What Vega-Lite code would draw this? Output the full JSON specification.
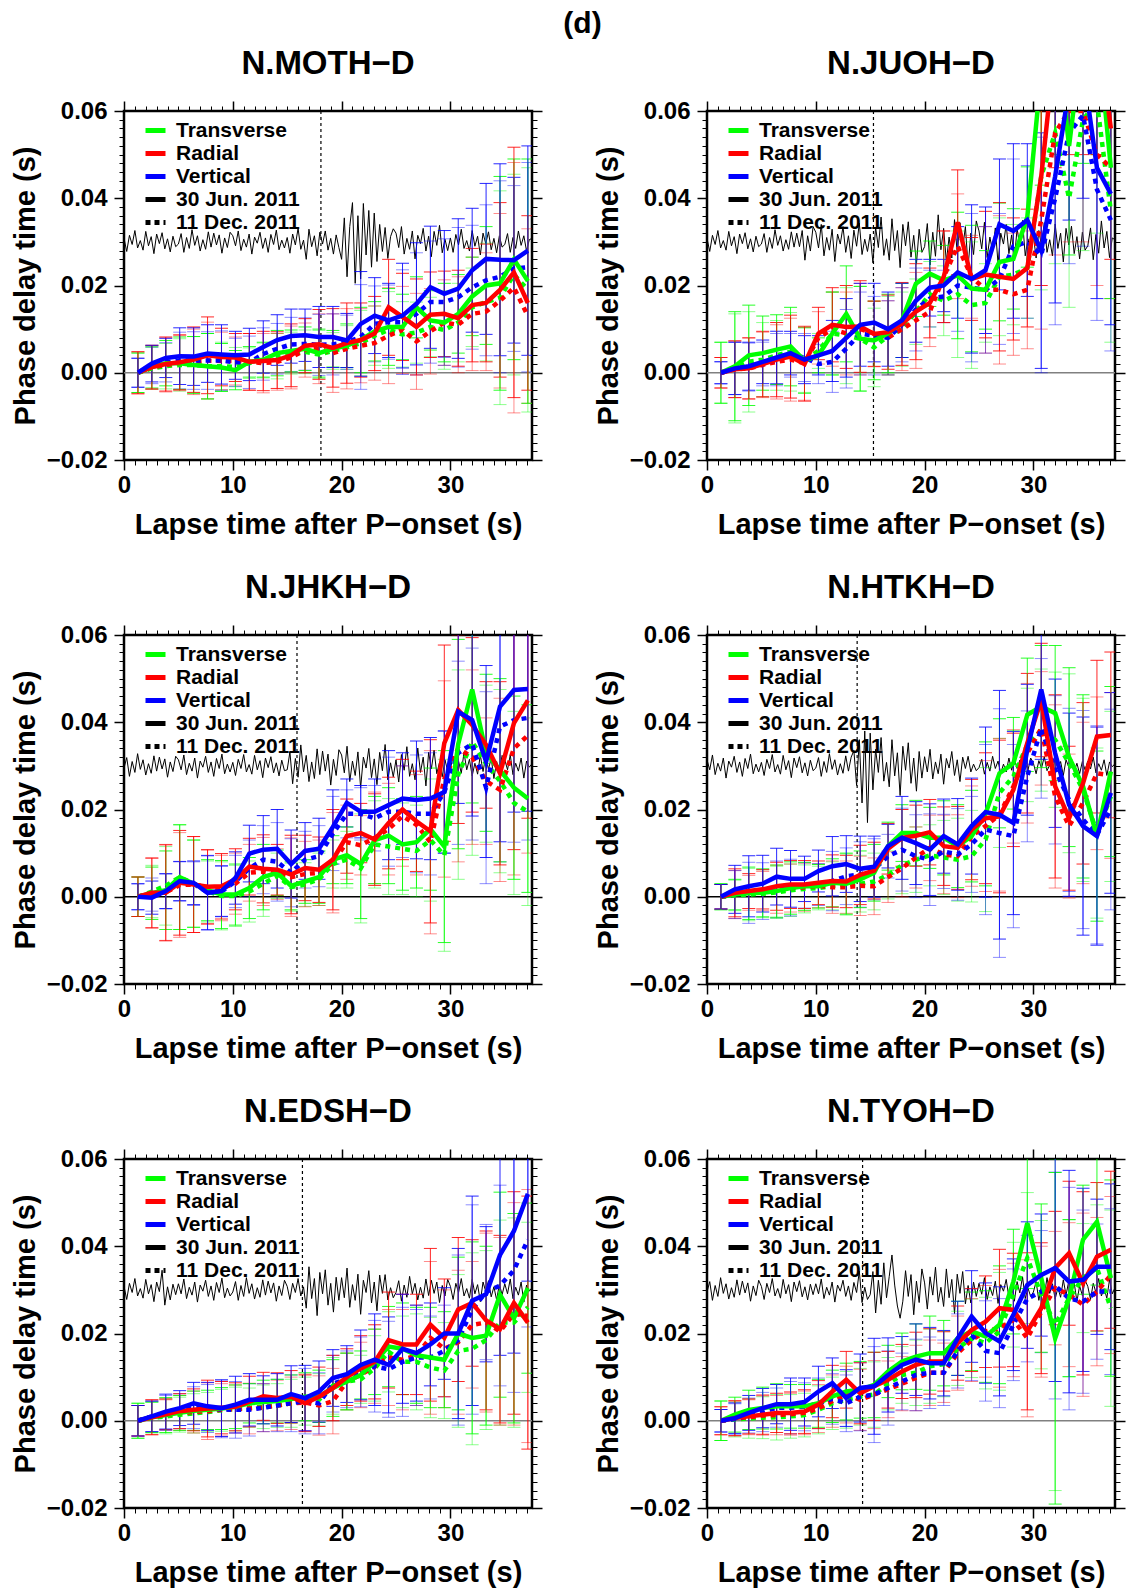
{
  "$schema": "https://vega.github.io/schema/vega-lite/v6.json",
  "background": "white",
  "padding": {"left": 10, "top": 8, "right": 2, "bottom": 2},
  "title": {"text": "(d)", "fontSize": 30, "anchor": "middle", "offset": 8, "dx": 14},
  "columns": 2,
  "spacing": 175,
  "bounds": "flush",
  "resolve": {
    "scale": {"x": "independent", "y": "independent", "color": "independent"},
    "legend": {"color": "independent"}
  },
  "datasets": {
    "moth": [
      {"c":"Transverse","t":1.28,"a":0,"b":0,"e":0.0045},
      {"c":"Transverse","t":2.56,"a":0.0013,"b":0.001,"e":0.0048},
      {"c":"Transverse","t":3.84,"a":0.0022,"b":0.0015,"e":0.0052},
      {"c":"Transverse","t":5.12,"a":0.0022,"b":0.0018,"e":0.006},
      {"c":"Transverse","t":6.4,"a":0.0018,"b":0.0018,"e":0.0065},
      {"c":"Transverse","t":7.68,"a":0.0015,"b":0.0015,"e":0.0075},
      {"c":"Transverse","t":8.96,"a":0.0012,"b":0.0015,"e":0.0055},
      {"c":"Transverse","t":10.24,"a":0.0006,"b":0.0013,"e":0.0045},
      {"c":"Transverse","t":11.52,"a":0.0025,"b":0.0022,"e":0.0035},
      {"c":"Transverse","t":12.8,"a":0.003,"b":0.0028,"e":0.004},
      {"c":"Transverse","t":14.08,"a":0.0045,"b":0.0038,"e":0.0052},
      {"c":"Transverse","t":15.36,"a":0.005,"b":0.0045,"e":0.0048},
      {"c":"Transverse","t":16.64,"a":0.0055,"b":0.0048,"e":0.005},
      {"c":"Transverse","t":17.92,"a":0.0045,"b":0.0042,"e":0.0055},
      {"c":"Transverse","t":19.2,"a":0.0055,"b":0.005,"e":0.0042},
      {"c":"Transverse","t":20.48,"a":0.0062,"b":0.0058,"e":0.005},
      {"c":"Transverse","t":21.76,"a":0.0075,"b":0.0068,"e":0.0075},
      {"c":"Transverse","t":23.04,"a":0.0095,"b":0.0085,"e":0.0068},
      {"c":"Transverse","t":24.32,"a":0.0105,"b":0.0098,"e":0.0088},
      {"c":"Transverse","t":25.6,"a":0.0105,"b":0.0088,"e":0.0075},
      {"c":"Transverse","t":26.88,"a":0.015,"b":0.0092,"e":0.007},
      {"c":"Transverse","t":28.16,"a":0.012,"b":0.0105,"e":0.0068},
      {"c":"Transverse","t":29.44,"a":0.0115,"b":0.0098,"e":0.009},
      {"c":"Transverse","t":30.72,"a":0.0135,"b":0.0115,"e":0.009},
      {"c":"Transverse","t":32,"a":0.0175,"b":0.015,"e":0.009},
      {"c":"Transverse","t":33.28,"a":0.02,"b":0.0162,"e":0.0135},
      {"c":"Transverse","t":34.56,"a":0.0205,"b":0.0172,"e":0.0245},
      {"c":"Transverse","t":35.84,"a":0.026,"b":0.0225,"e":0.023},
      {"c":"Transverse","t":37.12,"a":0.021,"b":0.019,"e":0.028},
      {"c":"Radial","t":1.28,"a":0,"b":0,"e":0.0048},
      {"c":"Radial","t":2.56,"a":0.0013,"b":0.0012,"e":0.005},
      {"c":"Radial","t":3.84,"a":0.002,"b":0.0018,"e":0.0062},
      {"c":"Radial","t":5.12,"a":0.0024,"b":0.0022,"e":0.0063},
      {"c":"Radial","t":6.4,"a":0.003,"b":0.0025,"e":0.0075},
      {"c":"Radial","t":7.68,"a":0.004,"b":0.0028,"e":0.0088},
      {"c":"Radial","t":8.96,"a":0.0036,"b":0.0027,"e":0.0066},
      {"c":"Radial","t":10.24,"a":0.0035,"b":0.0027,"e":0.0055},
      {"c":"Radial","t":11.52,"a":0.0025,"b":0.0025,"e":0.0065},
      {"c":"Radial","t":12.8,"a":0.0027,"b":0.0022,"e":0.0068},
      {"c":"Radial","t":14.08,"a":0.0029,"b":0.0025,"e":0.0065},
      {"c":"Radial","t":15.36,"a":0.004,"b":0.0035,"e":0.0072},
      {"c":"Radial","t":16.64,"a":0.0062,"b":0.0052,"e":0.0062},
      {"c":"Radial","t":17.92,"a":0.0065,"b":0.0055,"e":0.008},
      {"c":"Radial","t":19.2,"a":0.0057,"b":0.0045,"e":0.009},
      {"c":"Radial","t":20.48,"a":0.0068,"b":0.0055,"e":0.0092},
      {"c":"Radial","t":21.76,"a":0.0075,"b":0.0062,"e":0.0085},
      {"c":"Radial","t":23.04,"a":0.009,"b":0.0068,"e":0.0085},
      {"c":"Radial","t":24.32,"a":0.015,"b":0.0085,"e":0.011},
      {"c":"Radial","t":25.6,"a":0.0128,"b":0.0098,"e":0.01},
      {"c":"Radial","t":26.88,"a":0.0105,"b":0.0072,"e":0.011},
      {"c":"Radial","t":28.16,"a":0.0133,"b":0.0095,"e":0.0098},
      {"c":"Radial","t":29.44,"a":0.0135,"b":0.0115,"e":0.0098},
      {"c":"Radial","t":30.72,"a":0.0125,"b":0.011,"e":0.011},
      {"c":"Radial","t":32,"a":0.0155,"b":0.0135,"e":0.013},
      {"c":"Radial","t":33.28,"a":0.016,"b":0.014,"e":0.0135},
      {"c":"Radial","t":34.56,"a":0.019,"b":0.0165,"e":0.02},
      {"c":"Radial","t":35.84,"a":0.023,"b":0.0195,"e":0.0287},
      {"c":"Radial","t":37.12,"a":0.016,"b":0.013,"e":0.02},
      {"c":"Vertical","t":1.28,"a":0,"b":0,"e":0.0033},
      {"c":"Vertical","t":2.56,"a":0.0021,"b":0.0017,"e":0.0042},
      {"c":"Vertical","t":3.84,"a":0.0034,"b":0.0024,"e":0.0045},
      {"c":"Vertical","t":5.12,"a":0.0038,"b":0.0028,"e":0.0065},
      {"c":"Vertical","t":6.4,"a":0.0037,"b":0.0028,"e":0.0066},
      {"c":"Vertical","t":7.68,"a":0.0044,"b":0.0028,"e":0.0066},
      {"c":"Vertical","t":8.96,"a":0.0042,"b":0.0028,"e":0.0068},
      {"c":"Vertical","t":10.24,"a":0.004,"b":0.0024,"e":0.0055},
      {"c":"Vertical","t":11.52,"a":0.0042,"b":0.0024,"e":0.006},
      {"c":"Vertical","t":12.8,"a":0.0059,"b":0.0043,"e":0.006},
      {"c":"Vertical","t":14.08,"a":0.0075,"b":0.0055,"e":0.0058},
      {"c":"Vertical","t":15.36,"a":0.0084,"b":0.0065,"e":0.0062},
      {"c":"Vertical","t":16.64,"a":0.0086,"b":0.0066,"e":0.006},
      {"c":"Vertical","t":17.92,"a":0.0082,"b":0.0064,"e":0.007},
      {"c":"Vertical","t":19.2,"a":0.0082,"b":0.0065,"e":0.007},
      {"c":"Vertical","t":20.48,"a":0.0074,"b":0.007,"e":0.0062},
      {"c":"Vertical","t":21.76,"a":0.0112,"b":0.0082,"e":0.012},
      {"c":"Vertical","t":23.04,"a":0.0131,"b":0.0112,"e":0.0087},
      {"c":"Vertical","t":24.32,"a":0.012,"b":0.0116,"e":0.0085},
      {"c":"Vertical","t":25.6,"a":0.0131,"b":0.0116,"e":0.012},
      {"c":"Vertical","t":26.88,"a":0.0158,"b":0.0135,"e":0.014},
      {"c":"Vertical","t":28.16,"a":0.0196,"b":0.0162,"e":0.014},
      {"c":"Vertical","t":29.44,"a":0.0181,"b":0.0162,"e":0.0145},
      {"c":"Vertical","t":30.72,"a":0.0193,"b":0.0173,"e":0.016},
      {"c":"Vertical","t":32,"a":0.0235,"b":0.0196,"e":0.0142},
      {"c":"Vertical","t":33.28,"a":0.0261,"b":0.0212,"e":0.0173},
      {"c":"Vertical","t":34.56,"a":0.0259,"b":0.022,"e":0.022},
      {"c":"Vertical","t":35.84,"a":0.0258,"b":0.0239,"e":0.019},
      {"c":"Vertical","t":37.12,"a":0.028,"b":0.0242,"e":0.024}
    ],
    "juoh": [
      {"c":"Transverse","t":1.28,"a":0,"b":0,"e":0.007},
      {"c":"Transverse","t":2.56,"a":0.0015,"b":0.001,"e":0.0125},
      {"c":"Transverse","t":3.84,"a":0.004,"b":0.0025,"e":0.0115},
      {"c":"Transverse","t":5.12,"a":0.0045,"b":0.003,"e":0.0085},
      {"c":"Transverse","t":6.4,"a":0.0053,"b":0.004,"e":0.008},
      {"c":"Transverse","t":7.68,"a":0.006,"b":0.0048,"e":0.009},
      {"c":"Transverse","t":8.96,"a":0.0028,"b":0.003,"e":0.0075},
      {"c":"Transverse","t":10.24,"a":0.004,"b":0.005,"e":0.004},
      {"c":"Transverse","t":11.52,"a":0.009,"b":0.009,"e":0.0095},
      {"c":"Transverse","t":12.8,"a":0.0135,"b":0.0085,"e":0.011},
      {"c":"Transverse","t":14.08,"a":0.0078,"b":0.0078,"e":0.012},
      {"c":"Transverse","t":15.36,"a":0.0074,"b":0.0058,"e":0.009},
      {"c":"Transverse","t":16.64,"a":0.009,"b":0.0085,"e":0.009},
      {"c":"Transverse","t":17.92,"a":0.012,"b":0.01,"e":0.0085},
      {"c":"Transverse","t":19.2,"a":0.0204,"b":0.014,"e":0.0075},
      {"c":"Transverse","t":20.48,"a":0.0227,"b":0.018,"e":0.0075},
      {"c":"Transverse","t":21.76,"a":0.0212,"b":0.0165,"e":0.008},
      {"c":"Transverse","t":23.04,"a":0.0223,"b":0.018,"e":0.0145},
      {"c":"Transverse","t":24.32,"a":0.0193,"b":0.0155,"e":0.0145},
      {"c":"Transverse","t":25.6,"a":0.019,"b":0.016,"e":0.009},
      {"c":"Transverse","t":26.88,"a":0.0254,"b":0.022,"e":0.0135},
      {"c":"Transverse","t":28.16,"a":0.0261,"b":0.0225,"e":0.0115},
      {"c":"Transverse","t":29.44,"a":0.0357,"b":0.024,"e":0.0115},
      {"c":"Transverse","t":30.72,"a":0.069,"b":0.045,"e":0.026},
      {"c":"Transverse","t":32,"a":0.08,"b":0.055,"e":0.03},
      {"c":"Transverse","t":33.28,"a":0.052,"b":0.04,"e":0.025},
      {"c":"Transverse","t":34.56,"a":0.078,"b":0.058,"e":0.03},
      {"c":"Transverse","t":35.84,"a":0.08,"b":0.062,"e":0.03},
      {"c":"Transverse","t":37.12,"a":0.047,"b":0.037,"e":0.03},
      {"c":"Radial","t":1.28,"a":0,"b":0,"e":0.0035},
      {"c":"Radial","t":2.56,"a":0.0008,"b":0.0008,"e":0.0065},
      {"c":"Radial","t":3.84,"a":0.001,"b":0.001,"e":0.007},
      {"c":"Radial","t":5.12,"a":0.002,"b":0.0018,"e":0.0075},
      {"c":"Radial","t":6.4,"a":0.003,"b":0.0025,"e":0.0085},
      {"c":"Radial","t":7.68,"a":0.0037,"b":0.003,"e":0.0095},
      {"c":"Radial","t":8.96,"a":0.002,"b":0.0022,"e":0.0085},
      {"c":"Radial","t":10.24,"a":0.009,"b":0.008,"e":0.006},
      {"c":"Radial","t":11.52,"a":0.011,"b":0.01,"e":0.0085},
      {"c":"Radial","t":12.8,"a":0.0105,"b":0.009,"e":0.0095},
      {"c":"Radial","t":14.08,"a":0.0106,"b":0.01,"e":0.0105},
      {"c":"Radial","t":15.36,"a":0.0089,"b":0.009,"e":0.0075},
      {"c":"Radial","t":16.64,"a":0.0093,"b":0.008,"e":0.0085},
      {"c":"Radial","t":17.92,"a":0.0112,"b":0.01,"e":0.0095},
      {"c":"Radial","t":19.2,"a":0.014,"b":0.012,"e":0.011},
      {"c":"Radial","t":20.48,"a":0.016,"b":0.014,"e":0.008},
      {"c":"Radial","t":21.76,"a":0.022,"b":0.022,"e":0.0105},
      {"c":"Radial","t":23.04,"a":0.0345,"b":0.029,"e":0.012},
      {"c":"Radial","t":24.32,"a":0.0215,"b":0.022,"e":0.0095},
      {"c":"Radial","t":25.6,"a":0.0225,"b":0.019,"e":0.0145},
      {"c":"Radial","t":26.88,"a":0.022,"b":0.019,"e":0.017},
      {"c":"Radial","t":28.16,"a":0.0215,"b":0.018,"e":0.014},
      {"c":"Radial","t":29.44,"a":0.024,"b":0.019,"e":0.0135},
      {"c":"Radial","t":30.72,"a":0.045,"b":0.035,"e":0.025},
      {"c":"Radial","t":32,"a":0.075,"b":0.055,"e":0.028},
      {"c":"Radial","t":33.28,"a":0.08,"b":0.06,"e":0.03},
      {"c":"Radial","t":34.56,"a":0.08,"b":0.06,"e":0.03},
      {"c":"Radial","t":35.84,"a":0.08,"b":0.05,"e":0.03},
      {"c":"Radial","t":37.12,"a":0.056,"b":0.047,"e":0.03},
      {"c":"Vertical","t":1.28,"a":0,"b":0,"e":0.0025},
      {"c":"Vertical","t":2.56,"a":0.001,"b":0.001,"e":0.006},
      {"c":"Vertical","t":3.84,"a":0.0015,"b":0.0013,"e":0.0055},
      {"c":"Vertical","t":5.12,"a":0.0025,"b":0.002,"e":0.005},
      {"c":"Vertical","t":6.4,"a":0.0035,"b":0.003,"e":0.006},
      {"c":"Vertical","t":7.68,"a":0.0045,"b":0.004,"e":0.005},
      {"c":"Vertical","t":8.96,"a":0.003,"b":0.0035,"e":0.0055},
      {"c":"Vertical","t":10.24,"a":0.004,"b":0.002,"e":0.0045},
      {"c":"Vertical","t":11.52,"a":0.005,"b":0.0025,"e":0.007},
      {"c":"Vertical","t":12.8,"a":0.008,"b":0.0055,"e":0.009},
      {"c":"Vertical","t":14.08,"a":0.011,"b":0.009,"e":0.0095},
      {"c":"Vertical","t":15.36,"a":0.0115,"b":0.0085,"e":0.009},
      {"c":"Vertical","t":16.64,"a":0.01,"b":0.008,"e":0.0085},
      {"c":"Vertical","t":17.92,"a":0.012,"b":0.011,"e":0.0085},
      {"c":"Vertical","t":19.2,"a":0.0165,"b":0.0145,"e":0.0095},
      {"c":"Vertical","t":20.48,"a":0.0195,"b":0.017,"e":0.0065},
      {"c":"Vertical","t":21.76,"a":0.02,"b":0.0175,"e":0.006},
      {"c":"Vertical","t":23.04,"a":0.023,"b":0.02,"e":0.0105},
      {"c":"Vertical","t":24.32,"a":0.0215,"b":0.0195,"e":0.017},
      {"c":"Vertical","t":25.6,"a":0.0235,"b":0.019,"e":0.0145},
      {"c":"Vertical","t":26.88,"a":0.034,"b":0.0215,"e":0.015},
      {"c":"Vertical","t":28.16,"a":0.0325,"b":0.029,"e":0.02},
      {"c":"Vertical","t":29.44,"a":0.035,"b":0.03,"e":0.0175},
      {"c":"Vertical","t":30.72,"a":0.028,"b":0.027,"e":0.027},
      {"c":"Vertical","t":32,"a":0.045,"b":0.04,"e":0.029},
      {"c":"Vertical","t":33.28,"a":0.065,"b":0.055,"e":0.03},
      {"c":"Vertical","t":34.56,"a":0.07,"b":0.059,"e":0.03},
      {"c":"Vertical","t":35.84,"a":0.047,"b":0.042,"e":0.03},
      {"c":"Vertical","t":37.12,"a":0.041,"b":0.035,"e":0.03}
    ],
    "jhkh": [
      {"c":"Transverse","t":1.28,"a":0,"b":0,"e":0.0045},
      {"c":"Transverse","t":2.56,"a":0.0008,"b":0.0012,"e":0.006},
      {"c":"Transverse","t":3.84,"a":0.0015,"b":0.0025,"e":0.009},
      {"c":"Transverse","t":5.12,"a":0.0045,"b":0.0045,"e":0.012},
      {"c":"Transverse","t":6.4,"a":0.003,"b":0.003,"e":0.01},
      {"c":"Transverse","t":7.68,"a":0.0015,"b":0.0012,"e":0.007},
      {"c":"Transverse","t":8.96,"a":0.0005,"b":0.0002,"e":0.0078},
      {"c":"Transverse","t":10.24,"a":0.0005,"b":0.0002,"e":0.007},
      {"c":"Transverse","t":11.52,"a":0.002,"b":0.0012,"e":0.007},
      {"c":"Transverse","t":12.8,"a":0.0045,"b":0.003,"e":0.0075},
      {"c":"Transverse","t":14.08,"a":0.0055,"b":0.0048,"e":0.0052},
      {"c":"Transverse","t":15.36,"a":0.0025,"b":0.0022,"e":0.0055},
      {"c":"Transverse","t":16.64,"a":0.0035,"b":0.0028,"e":0.005},
      {"c":"Transverse","t":17.92,"a":0.0045,"b":0.004,"e":0.006},
      {"c":"Transverse","t":19.2,"a":0.0085,"b":0.0075,"e":0.0055},
      {"c":"Transverse","t":20.48,"a":0.0095,"b":0.0085,"e":0.0065},
      {"c":"Transverse","t":21.76,"a":0.0075,"b":0.0065,"e":0.0125},
      {"c":"Transverse","t":23.04,"a":0.013,"b":0.012,"e":0.01},
      {"c":"Transverse","t":24.32,"a":0.014,"b":0.0115,"e":0.011},
      {"c":"Transverse","t":25.6,"a":0.012,"b":0.011,"e":0.0105},
      {"c":"Transverse","t":26.88,"a":0.0125,"b":0.0105,"e":0.0105},
      {"c":"Transverse","t":28.16,"a":0.0155,"b":0.013,"e":0.014},
      {"c":"Transverse","t":29.44,"a":0.0115,"b":0.0095,"e":0.022},
      {"c":"Transverse","t":30.72,"a":0.035,"b":0.028,"e":0.024},
      {"c":"Transverse","t":32,"a":0.0475,"b":0.0355,"e":0.026},
      {"c":"Transverse","t":33.28,"a":0.033,"b":0.0305,"e":0.018},
      {"c":"Transverse","t":34.56,"a":0.029,"b":0.0265,"e":0.021},
      {"c":"Transverse","t":35.84,"a":0.025,"b":0.0215,"e":0.021},
      {"c":"Transverse","t":37.12,"a":0.0225,"b":0.0195,"e":0.0215},
      {"c":"Radial","t":1.28,"a":0,"b":0,"e":0.0045},
      {"c":"Radial","t":2.56,"a":0.0009,"b":0.0008,"e":0.008},
      {"c":"Radial","t":3.84,"a":0.0009,"b":0.001,"e":0.011},
      {"c":"Radial","t":5.12,"a":0.0032,"b":0.0027,"e":0.012},
      {"c":"Radial","t":6.4,"a":0.0028,"b":0.0028,"e":0.011},
      {"c":"Radial","t":7.68,"a":0.0023,"b":0.0022,"e":0.0085},
      {"c":"Radial","t":8.96,"a":0.0024,"b":0.002,"e":0.0075},
      {"c":"Radial","t":10.24,"a":0.004,"b":0.003,"e":0.007},
      {"c":"Radial","t":11.52,"a":0.0069,"b":0.0055,"e":0.0065},
      {"c":"Radial","t":12.8,"a":0.0064,"b":0.0058,"e":0.0078},
      {"c":"Radial","t":14.08,"a":0.0062,"b":0.0052,"e":0.0058},
      {"c":"Radial","t":15.36,"a":0.0051,"b":0.0045,"e":0.009},
      {"c":"Radial","t":16.64,"a":0.0066,"b":0.0052,"e":0.0075},
      {"c":"Radial","t":17.92,"a":0.0062,"b":0.0055,"e":0.0075},
      {"c":"Radial","t":19.2,"a":0.0085,"b":0.0078,"e":0.0115},
      {"c":"Radial","t":20.48,"a":0.0139,"b":0.0125,"e":0.0085},
      {"c":"Radial","t":21.76,"a":0.0146,"b":0.0118,"e":0.0068},
      {"c":"Radial","t":23.04,"a":0.0131,"b":0.0135,"e":0.0105},
      {"c":"Radial","t":24.32,"a":0.0169,"b":0.0155,"e":0.0105},
      {"c":"Radial","t":25.6,"a":0.02,"b":0.0185,"e":0.0115},
      {"c":"Radial","t":26.88,"a":0.0173,"b":0.0165,"e":0.0115},
      {"c":"Radial","t":28.16,"a":0.015,"b":0.0125,"e":0.021},
      {"c":"Radial","t":29.44,"a":0.0352,"b":0.027,"e":0.0225},
      {"c":"Radial","t":30.72,"a":0.0428,"b":0.034,"e":0.026},
      {"c":"Radial","t":32,"a":0.0394,"b":0.032,"e":0.02},
      {"c":"Radial","t":33.28,"a":0.0348,"b":0.0265,"e":0.0145},
      {"c":"Radial","t":34.56,"a":0.0283,"b":0.0245,"e":0.021},
      {"c":"Radial","t":35.84,"a":0.0398,"b":0.034,"e":0.029},
      {"c":"Radial","t":37.12,"a":0.045,"b":0.037,"e":0.027},
      {"c":"Vertical","t":1.28,"a":0,"b":0,"e":0.003},
      {"c":"Vertical","t":2.56,"a":-0.0002,"b":0.0005,"e":0.0038},
      {"c":"Vertical","t":3.84,"a":0.0013,"b":0.0012,"e":0.004},
      {"c":"Vertical","t":5.12,"a":0.0036,"b":0.0035,"e":0.0045},
      {"c":"Vertical","t":6.4,"a":0.0032,"b":0.003,"e":0.005},
      {"c":"Vertical","t":7.68,"a":0.0009,"b":0.001,"e":0.0085},
      {"c":"Vertical","t":8.96,"a":0.0013,"b":0.0012,"e":0.0058},
      {"c":"Vertical","t":10.24,"a":0.0043,"b":0.0035,"e":0.006},
      {"c":"Vertical","t":11.52,"a":0.0099,"b":0.0065,"e":0.0065},
      {"c":"Vertical","t":12.8,"a":0.0108,"b":0.0085,"e":0.0078},
      {"c":"Vertical","t":14.08,"a":0.011,"b":0.008,"e":0.009},
      {"c":"Vertical","t":15.36,"a":0.0075,"b":0.0055,"e":0.0078},
      {"c":"Vertical","t":16.64,"a":0.0105,"b":0.0085,"e":0.0065},
      {"c":"Vertical","t":17.92,"a":0.011,"b":0.0093,"e":0.007},
      {"c":"Vertical","t":19.2,"a":0.016,"b":0.0145,"e":0.0085},
      {"c":"Vertical","t":20.48,"a":0.0215,"b":0.019,"e":0.0055},
      {"c":"Vertical","t":21.76,"a":0.0195,"b":0.019,"e":0.006},
      {"c":"Vertical","t":23.04,"a":0.0195,"b":0.018,"e":0.0075},
      {"c":"Vertical","t":24.32,"a":0.021,"b":0.0195,"e":0.0125},
      {"c":"Vertical","t":25.6,"a":0.0225,"b":0.0195,"e":0.0105},
      {"c":"Vertical","t":26.88,"a":0.0222,"b":0.019,"e":0.0135},
      {"c":"Vertical","t":28.16,"a":0.0225,"b":0.019,"e":0.014},
      {"c":"Vertical","t":29.44,"a":0.024,"b":0.024,"e":0.014},
      {"c":"Vertical","t":30.72,"a":0.0424,"b":0.033,"e":0.021},
      {"c":"Vertical","t":32,"a":0.0405,"b":0.035,"e":0.022},
      {"c":"Vertical","t":33.28,"a":0.031,"b":0.025,"e":0.022},
      {"c":"Vertical","t":34.56,"a":0.0436,"b":0.039,"e":0.031},
      {"c":"Vertical","t":35.84,"a":0.0474,"b":0.0405,"e":0.028},
      {"c":"Vertical","t":37.12,"a":0.0476,"b":0.041,"e":0.028}
    ],
    "htkh": [
      {"c":"Transverse","t":1.28,"a":0,"b":0,"e":0.003},
      {"c":"Transverse","t":2.56,"a":0.0005,"b":0.0003,"e":0.0035},
      {"c":"Transverse","t":3.84,"a":0.0008,"b":0.0005,"e":0.006},
      {"c":"Transverse","t":5.12,"a":0.0009,"b":0.0007,"e":0.0055},
      {"c":"Transverse","t":6.4,"a":0.0013,"b":0.001,"e":0.006},
      {"c":"Transverse","t":7.68,"a":0.002,"b":0.0015,"e":0.006},
      {"c":"Transverse","t":8.96,"a":0.0024,"b":0.0018,"e":0.0055},
      {"c":"Transverse","t":10.24,"a":0.0024,"b":0.002,"e":0.005},
      {"c":"Transverse","t":11.52,"a":0.0032,"b":0.0025,"e":0.0055},
      {"c":"Transverse","t":12.8,"a":0.003,"b":0.0028,"e":0.007},
      {"c":"Transverse","t":14.08,"a":0.004,"b":0.003,"e":0.0065},
      {"c":"Transverse","t":15.36,"a":0.0055,"b":0.0035,"e":0.0065},
      {"c":"Transverse","t":16.64,"a":0.0116,"b":0.005,"e":0.0055},
      {"c":"Transverse","t":17.92,"a":0.0146,"b":0.0072,"e":0.0065},
      {"c":"Transverse","t":19.2,"a":0.0146,"b":0.0085,"e":0.0075},
      {"c":"Transverse","t":20.48,"a":0.0135,"b":0.0095,"e":0.007},
      {"c":"Transverse","t":21.76,"a":0.0135,"b":0.009,"e":0.0085},
      {"c":"Transverse","t":23.04,"a":0.0116,"b":0.0085,"e":0.0095},
      {"c":"Transverse","t":24.32,"a":0.0139,"b":0.0093,"e":0.0105},
      {"c":"Transverse","t":25.6,"a":0.019,"b":0.0131,"e":0.0165},
      {"c":"Transverse","t":26.88,"a":0.0283,"b":0.0238,"e":0.0125},
      {"c":"Transverse","t":28.16,"a":0.0306,"b":0.0276,"e":0.0105},
      {"c":"Transverse","t":29.44,"a":0.0417,"b":0.0348,"e":0.013},
      {"c":"Transverse","t":30.72,"a":0.0436,"b":0.0382,"e":0.014},
      {"c":"Transverse","t":32,"a":0.0421,"b":0.036,"e":0.0155},
      {"c":"Transverse","t":33.28,"a":0.032,"b":0.0306,"e":0.0205},
      {"c":"Transverse","t":34.56,"a":0.0253,"b":0.0245,"e":0.021},
      {"c":"Transverse","t":35.84,"a":0.0139,"b":0.0146,"e":0.0195},
      {"c":"Transverse","t":37.12,"a":0.0287,"b":0.023,"e":0.0195},
      {"c":"Radial","t":1.28,"a":0,"b":0,"e":0.0028},
      {"c":"Radial","t":2.56,"a":0.0009,"b":0.0005,"e":0.0055},
      {"c":"Radial","t":3.84,"a":0.0013,"b":0.0009,"e":0.004},
      {"c":"Radial","t":5.12,"a":0.0017,"b":0.0013,"e":0.0045},
      {"c":"Radial","t":6.4,"a":0.0024,"b":0.0017,"e":0.0055},
      {"c":"Radial","t":7.68,"a":0.0028,"b":0.002,"e":0.0055},
      {"c":"Radial","t":8.96,"a":0.0028,"b":0.0022,"e":0.0055},
      {"c":"Radial","t":10.24,"a":0.0032,"b":0.0025,"e":0.005},
      {"c":"Radial","t":11.52,"a":0.0036,"b":0.0022,"e":0.006},
      {"c":"Radial","t":12.8,"a":0.0035,"b":0.0022,"e":0.006},
      {"c":"Radial","t":14.08,"a":0.005,"b":0.0025,"e":0.0068},
      {"c":"Radial","t":15.36,"a":0.006,"b":0.0024,"e":0.0065},
      {"c":"Radial","t":16.64,"a":0.011,"b":0.0045,"e":0.0058},
      {"c":"Radial","t":17.92,"a":0.0135,"b":0.0065,"e":0.0065},
      {"c":"Radial","t":19.2,"a":0.014,"b":0.009,"e":0.007},
      {"c":"Radial","t":20.48,"a":0.0148,"b":0.0112,"e":0.0075},
      {"c":"Radial","t":21.76,"a":0.0116,"b":0.0097,"e":0.009},
      {"c":"Radial","t":23.04,"a":0.0112,"b":0.0093,"e":0.0095},
      {"c":"Radial","t":24.32,"a":0.0154,"b":0.0139,"e":0.0115},
      {"c":"Radial","t":25.6,"a":0.018,"b":0.0162,"e":0.015},
      {"c":"Radial","t":26.88,"a":0.0184,"b":0.0188,"e":0.0175},
      {"c":"Radial","t":28.16,"a":0.0245,"b":0.0253,"e":0.013},
      {"c":"Radial","t":29.44,"a":0.0352,"b":0.0329,"e":0.016},
      {"c":"Radial","t":30.72,"a":0.0451,"b":0.0386,"e":0.013},
      {"c":"Radial","t":32,"a":0.0253,"b":0.023,"e":0.021},
      {"c":"Radial","t":33.28,"a":0.018,"b":0.0162,"e":0.0165},
      {"c":"Radial","t":34.56,"a":0.026,"b":0.0215,"e":0.0185},
      {"c":"Radial","t":35.84,"a":0.0367,"b":0.0283,"e":0.0175},
      {"c":"Radial","t":37.12,"a":0.0371,"b":0.0278,"e":0.019},
      {"c":"Vertical","t":1.28,"a":0,"b":0,"e":0.0028},
      {"c":"Vertical","t":2.56,"a":0.0017,"b":0.0005,"e":0.0055},
      {"c":"Vertical","t":3.84,"a":0.0024,"b":0.0009,"e":0.007},
      {"c":"Vertical","t":5.12,"a":0.003,"b":0.0013,"e":0.0065},
      {"c":"Vertical","t":6.4,"a":0.0046,"b":0.0017,"e":0.0065},
      {"c":"Vertical","t":7.68,"a":0.0041,"b":0.0021,"e":0.0065},
      {"c":"Vertical","t":8.96,"a":0.0041,"b":0.0026,"e":0.0052},
      {"c":"Vertical","t":10.24,"a":0.0059,"b":0.0028,"e":0.0048},
      {"c":"Vertical","t":11.52,"a":0.007,"b":0.0036,"e":0.0068},
      {"c":"Vertical","t":12.8,"a":0.0075,"b":0.0047,"e":0.0065},
      {"c":"Vertical","t":14.08,"a":0.0064,"b":0.0051,"e":0.0075},
      {"c":"Vertical","t":15.36,"a":0.0069,"b":0.0063,"e":0.007},
      {"c":"Vertical","t":16.64,"a":0.0116,"b":0.0093,"e":0.005},
      {"c":"Vertical","t":17.92,"a":0.0135,"b":0.0108,"e":0.0095},
      {"c":"Vertical","t":19.2,"a":0.0123,"b":0.0093,"e":0.0095},
      {"c":"Vertical","t":20.48,"a":0.0108,"b":0.0085,"e":0.0105},
      {"c":"Vertical","t":21.76,"a":0.0139,"b":0.0104,"e":0.0085},
      {"c":"Vertical","t":23.04,"a":0.012,"b":0.0097,"e":0.0105},
      {"c":"Vertical","t":24.32,"a":0.0162,"b":0.012,"e":0.011},
      {"c":"Vertical","t":25.6,"a":0.0194,"b":0.0154,"e":0.0195},
      {"c":"Vertical","t":26.88,"a":0.0188,"b":0.0146,"e":0.0285},
      {"c":"Vertical","t":28.16,"a":0.0169,"b":0.0139,"e":0.021},
      {"c":"Vertical","t":29.44,"a":0.0337,"b":0.0276,"e":0.015},
      {"c":"Vertical","t":30.72,"a":0.0475,"b":0.0386,"e":0.016},
      {"c":"Vertical","t":32,"a":0.0329,"b":0.0291,"e":0.017},
      {"c":"Vertical","t":33.28,"a":0.0211,"b":0.0222,"e":0.021},
      {"c":"Vertical","t":34.56,"a":0.0162,"b":0.0177,"e":0.025},
      {"c":"Vertical","t":35.84,"a":0.0139,"b":0.0142,"e":0.025},
      {"c":"Vertical","t":37.12,"a":0.0238,"b":0.02,"e":0.023}
    ],
    "edsh": [
      {"c":"Transverse","t":1.28,"a":0,"b":0,"e":0.004},
      {"c":"Transverse","t":2.56,"a":0.0008,"b":0.0007,"e":0.0035},
      {"c":"Transverse","t":3.84,"a":0.0013,"b":0.001,"e":0.004},
      {"c":"Transverse","t":5.12,"a":0.0018,"b":0.0014,"e":0.004},
      {"c":"Transverse","t":6.4,"a":0.0023,"b":0.0017,"e":0.0045},
      {"c":"Transverse","t":7.68,"a":0.0025,"b":0.002,"e":0.0045},
      {"c":"Transverse","t":8.96,"a":0.0028,"b":0.0024,"e":0.0048},
      {"c":"Transverse","t":10.24,"a":0.0032,"b":0.0027,"e":0.005},
      {"c":"Transverse","t":11.52,"a":0.004,"b":0.003,"e":0.0045},
      {"c":"Transverse","t":12.8,"a":0.0043,"b":0.0032,"e":0.005},
      {"c":"Transverse","t":14.08,"a":0.0045,"b":0.0035,"e":0.005},
      {"c":"Transverse","t":15.36,"a":0.005,"b":0.004,"e":0.0055},
      {"c":"Transverse","t":16.64,"a":0.0055,"b":0.0045,"e":0.0055},
      {"c":"Transverse","t":17.92,"a":0.0056,"b":0.0048,"e":0.006},
      {"c":"Transverse","t":19.2,"a":0.0075,"b":0.008,"e":0.0065},
      {"c":"Transverse","t":20.48,"a":0.009,"b":0.009,"e":0.0065},
      {"c":"Transverse","t":21.76,"a":0.0105,"b":0.0095,"e":0.0055},
      {"c":"Transverse","t":23.04,"a":0.0135,"b":0.012,"e":0.0075},
      {"c":"Transverse","t":24.32,"a":0.017,"b":0.0158,"e":0.0092},
      {"c":"Transverse","t":25.6,"a":0.0165,"b":0.0135,"e":0.0105},
      {"c":"Transverse","t":26.88,"a":0.015,"b":0.0135,"e":0.011},
      {"c":"Transverse","t":28.16,"a":0.0145,"b":0.0122,"e":0.0115},
      {"c":"Transverse","t":29.44,"a":0.014,"b":0.0115,"e":0.011},
      {"c":"Transverse","t":30.72,"a":0.02,"b":0.016,"e":0.0175},
      {"c":"Transverse","t":32,"a":0.019,"b":0.0165,"e":0.022},
      {"c":"Transverse","t":33.28,"a":0.0195,"b":0.0185,"e":0.0205},
      {"c":"Transverse","t":34.56,"a":0.0289,"b":0.0225,"e":0.0235},
      {"c":"Transverse","t":35.84,"a":0.0235,"b":0.0225,"e":0.024},
      {"c":"Transverse","t":37.12,"a":0.0304,"b":0.026,"e":0.0195},
      {"c":"Radial","t":1.28,"a":0,"b":0,"e":0.0035},
      {"c":"Radial","t":2.56,"a":0.0008,"b":0.0008,"e":0.004},
      {"c":"Radial","t":3.84,"a":0.0015,"b":0.0013,"e":0.0035},
      {"c":"Radial","t":5.12,"a":0.0022,"b":0.0018,"e":0.004},
      {"c":"Radial","t":6.4,"a":0.0025,"b":0.002,"e":0.0048},
      {"c":"Radial","t":7.68,"a":0.0028,"b":0.0022,"e":0.0065},
      {"c":"Radial","t":8.96,"a":0.003,"b":0.0025,"e":0.006},
      {"c":"Radial","t":10.24,"a":0.0032,"b":0.0027,"e":0.0055},
      {"c":"Radial","t":11.52,"a":0.0044,"b":0.0028,"e":0.0058},
      {"c":"Radial","t":12.8,"a":0.0056,"b":0.003,"e":0.0055},
      {"c":"Radial","t":14.08,"a":0.0052,"b":0.0035,"e":0.0058},
      {"c":"Radial","t":15.36,"a":0.0055,"b":0.004,"e":0.006},
      {"c":"Radial","t":16.64,"a":0.004,"b":0.0042,"e":0.0065},
      {"c":"Radial","t":17.92,"a":0.0055,"b":0.0035,"e":0.0068},
      {"c":"Radial","t":19.2,"a":0.0075,"b":0.0045,"e":0.0075},
      {"c":"Radial","t":20.48,"a":0.01,"b":0.009,"e":0.0065},
      {"c":"Radial","t":21.76,"a":0.012,"b":0.0105,"e":0.0075},
      {"c":"Radial","t":23.04,"a":0.0135,"b":0.0125,"e":0.0085},
      {"c":"Radial","t":24.32,"a":0.0185,"b":0.0145,"e":0.011},
      {"c":"Radial","t":25.6,"a":0.0175,"b":0.014,"e":0.0115},
      {"c":"Radial","t":26.88,"a":0.0175,"b":0.015,"e":0.0115},
      {"c":"Radial","t":28.16,"a":0.022,"b":0.019,"e":0.0175},
      {"c":"Radial","t":29.44,"a":0.019,"b":0.0165,"e":0.0135},
      {"c":"Radial","t":30.72,"a":0.0255,"b":0.018,"e":0.0165},
      {"c":"Radial","t":32,"a":0.027,"b":0.022,"e":0.0145},
      {"c":"Radial","t":33.28,"a":0.023,"b":0.0225,"e":0.0205},
      {"c":"Radial","t":34.56,"a":0.021,"b":0.0205,"e":0.0215},
      {"c":"Radial","t":35.84,"a":0.027,"b":0.0245,"e":0.0255},
      {"c":"Radial","t":37.12,"a":0.0225,"b":0.024,"e":0.029},
      {"c":"Vertical","t":1.28,"a":0,"b":0,"e":0.0035},
      {"c":"Vertical","t":2.56,"a":0.001,"b":0.001,"e":0.0035},
      {"c":"Vertical","t":3.84,"a":0.0021,"b":0.0018,"e":0.004},
      {"c":"Vertical","t":5.12,"a":0.0029,"b":0.0022,"e":0.004},
      {"c":"Vertical","t":6.4,"a":0.004,"b":0.003,"e":0.0048},
      {"c":"Vertical","t":7.68,"a":0.0033,"b":0.0028,"e":0.0055},
      {"c":"Vertical","t":8.96,"a":0.0029,"b":0.0026,"e":0.0065},
      {"c":"Vertical","t":10.24,"a":0.0037,"b":0.0025,"e":0.0065},
      {"c":"Vertical","t":11.52,"a":0.0048,"b":0.0025,"e":0.006},
      {"c":"Vertical","t":12.8,"a":0.0048,"b":0.003,"e":0.0055},
      {"c":"Vertical","t":14.08,"a":0.0048,"b":0.0035,"e":0.006},
      {"c":"Vertical","t":15.36,"a":0.0061,"b":0.004,"e":0.0065},
      {"c":"Vertical","t":16.64,"a":0.0052,"b":0.0045,"e":0.0075},
      {"c":"Vertical","t":17.92,"a":0.0067,"b":0.004,"e":0.007},
      {"c":"Vertical","t":19.2,"a":0.0098,"b":0.0085,"e":0.0065},
      {"c":"Vertical","t":20.48,"a":0.0107,"b":0.0095,"e":0.0065},
      {"c":"Vertical","t":21.76,"a":0.0128,"b":0.0112,"e":0.008},
      {"c":"Vertical","t":23.04,"a":0.014,"b":0.0125,"e":0.0105},
      {"c":"Vertical","t":24.32,"a":0.0128,"b":0.0118,"e":0.011},
      {"c":"Vertical","t":25.6,"a":0.0165,"b":0.0135,"e":0.0125},
      {"c":"Vertical","t":26.88,"a":0.0155,"b":0.0145,"e":0.011},
      {"c":"Vertical","t":28.16,"a":0.0175,"b":0.0145,"e":0.0095},
      {"c":"Vertical","t":29.44,"a":0.02,"b":0.016,"e":0.0105},
      {"c":"Vertical","t":30.72,"a":0.02,"b":0.0185,"e":0.0195},
      {"c":"Vertical","t":32,"a":0.0275,"b":0.0255,"e":0.024},
      {"c":"Vertical","t":33.28,"a":0.029,"b":0.0295,"e":0.0155},
      {"c":"Vertical","t":34.56,"a":0.038,"b":0.031,"e":0.023},
      {"c":"Vertical","t":35.84,"a":0.0435,"b":0.0345,"e":0.028},
      {"c":"Vertical","t":37.12,"a":0.052,"b":0.0415,"e":0.02}
    ],
    "tyoh": [
      {"c":"Transverse","t":1.28,"a":0,"b":0,"e":0.0045},
      {"c":"Transverse","t":2.56,"a":0.0014,"b":0.0003,"e":0.004},
      {"c":"Transverse","t":3.84,"a":0.0025,"b":0.0005,"e":0.0045},
      {"c":"Transverse","t":5.12,"a":0.0029,"b":0.0007,"e":0.0048},
      {"c":"Transverse","t":6.4,"a":0.0033,"b":0.0008,"e":0.0052},
      {"c":"Transverse","t":7.68,"a":0.0033,"b":0.001,"e":0.005},
      {"c":"Transverse","t":8.96,"a":0.0033,"b":0.0013,"e":0.005},
      {"c":"Transverse","t":10.24,"a":0.004,"b":0.0025,"e":0.0055},
      {"c":"Transverse","t":11.52,"a":0.0056,"b":0.004,"e":0.006},
      {"c":"Transverse","t":12.8,"a":0.0067,"b":0.0048,"e":0.0065},
      {"c":"Transverse","t":14.08,"a":0.0071,"b":0.0055,"e":0.0065},
      {"c":"Transverse","t":15.36,"a":0.0082,"b":0.006,"e":0.0075},
      {"c":"Transverse","t":16.64,"a":0.0113,"b":0.0085,"e":0.006},
      {"c":"Transverse","t":17.92,"a":0.0136,"b":0.0105,"e":0.0065},
      {"c":"Transverse","t":19.2,"a":0.0147,"b":0.011,"e":0.0075},
      {"c":"Transverse","t":20.48,"a":0.0155,"b":0.0125,"e":0.0085},
      {"c":"Transverse","t":21.76,"a":0.0155,"b":0.013,"e":0.0075},
      {"c":"Transverse","t":23.04,"a":0.0189,"b":0.0166,"e":0.0085},
      {"c":"Transverse","t":24.32,"a":0.0205,"b":0.0189,"e":0.009},
      {"c":"Transverse","t":25.6,"a":0.0193,"b":0.0178,"e":0.0105},
      {"c":"Transverse","t":26.88,"a":0.022,"b":0.0205,"e":0.0135},
      {"c":"Transverse","t":28.16,"a":0.0319,"b":0.0289,"e":0.012},
      {"c":"Transverse","t":29.44,"a":0.0453,"b":0.0373,"e":0.015},
      {"c":"Transverse","t":30.72,"a":0.0327,"b":0.0289,"e":0.017},
      {"c":"Transverse","t":32,"a":0.0189,"b":0.022,"e":0.038},
      {"c":"Transverse","t":33.28,"a":0.0281,"b":0.0281,"e":0.018},
      {"c":"Transverse","t":34.56,"a":0.0415,"b":0.0327,"e":0.0125},
      {"c":"Transverse","t":35.84,"a":0.0456,"b":0.035,"e":0.0145},
      {"c":"Transverse","t":37.12,"a":0.0327,"b":0.0258,"e":0.0225},
      {"c":"Radial","t":1.28,"a":0,"b":0,"e":0.0032},
      {"c":"Radial","t":2.56,"a":0.0006,"b":0.0005,"e":0.004},
      {"c":"Radial","t":3.84,"a":0.001,"b":0.0008,"e":0.004},
      {"c":"Radial","t":5.12,"a":0.0014,"b":0.0012,"e":0.0045},
      {"c":"Radial","t":6.4,"a":0.0018,"b":0.0013,"e":0.0045},
      {"c":"Radial","t":7.68,"a":0.0018,"b":0.0015,"e":0.0048},
      {"c":"Radial","t":8.96,"a":0.0021,"b":0.0018,"e":0.005},
      {"c":"Radial","t":10.24,"a":0.0037,"b":0.0028,"e":0.0055},
      {"c":"Radial","t":11.52,"a":0.0067,"b":0.0045,"e":0.006},
      {"c":"Radial","t":12.8,"a":0.0094,"b":0.006,"e":0.0065},
      {"c":"Radial","t":14.08,"a":0.0063,"b":0.0048,"e":0.007},
      {"c":"Radial","t":15.36,"a":0.0079,"b":0.006,"e":0.0078},
      {"c":"Radial","t":16.64,"a":0.0094,"b":0.0072,"e":0.0065},
      {"c":"Radial","t":17.92,"a":0.0113,"b":0.0085,"e":0.0062},
      {"c":"Radial","t":19.2,"a":0.0128,"b":0.0098,"e":0.0075},
      {"c":"Radial","t":20.48,"a":0.0136,"b":0.011,"e":0.0075},
      {"c":"Radial","t":21.76,"a":0.0136,"b":0.011,"e":0.0068},
      {"c":"Radial","t":23.04,"a":0.0178,"b":0.0155,"e":0.0085},
      {"c":"Radial","t":24.32,"a":0.0208,"b":0.0185,"e":0.0095},
      {"c":"Radial","t":25.6,"a":0.0227,"b":0.0205,"e":0.0105},
      {"c":"Radial","t":26.88,"a":0.0258,"b":0.0212,"e":0.0135},
      {"c":"Radial","t":28.16,"a":0.0254,"b":0.0231,"e":0.013},
      {"c":"Radial","t":29.44,"a":0.0205,"b":0.0189,"e":0.018},
      {"c":"Radial","t":30.72,"a":0.0258,"b":0.025,"e":0.015},
      {"c":"Radial","t":32,"a":0.035,"b":0.0304,"e":0.013},
      {"c":"Radial","t":33.28,"a":0.0384,"b":0.0289,"e":0.0165},
      {"c":"Radial","t":34.56,"a":0.0315,"b":0.0266,"e":0.021},
      {"c":"Radial","t":35.84,"a":0.0376,"b":0.0296,"e":0.017},
      {"c":"Radial","t":37.12,"a":0.0392,"b":0.0334,"e":0.018},
      {"c":"Vertical","t":1.28,"a":0,"b":0,"e":0.0026},
      {"c":"Vertical","t":2.56,"a":0.0006,"b":0.0004,"e":0.0035},
      {"c":"Vertical","t":3.84,"a":0.0018,"b":0.0012,"e":0.004},
      {"c":"Vertical","t":5.12,"a":0.0029,"b":0.002,"e":0.0045},
      {"c":"Vertical","t":6.4,"a":0.0038,"b":0.003,"e":0.0045},
      {"c":"Vertical","t":7.68,"a":0.0038,"b":0.003,"e":0.006},
      {"c":"Vertical","t":8.96,"a":0.0043,"b":0.0032,"e":0.0055},
      {"c":"Vertical","t":10.24,"a":0.0067,"b":0.004,"e":0.0058},
      {"c":"Vertical","t":11.52,"a":0.0086,"b":0.005,"e":0.0058},
      {"c":"Vertical","t":12.8,"a":0.0052,"b":0.004,"e":0.0065},
      {"c":"Vertical","t":14.08,"a":0.0075,"b":0.0055,"e":0.0078},
      {"c":"Vertical","t":15.36,"a":0.0079,"b":0.006,"e":0.011},
      {"c":"Vertical","t":16.64,"a":0.0105,"b":0.0075,"e":0.0085},
      {"c":"Vertical","t":17.92,"a":0.0128,"b":0.009,"e":0.0065},
      {"c":"Vertical","t":19.2,"a":0.014,"b":0.0105,"e":0.0082},
      {"c":"Vertical","t":20.48,"a":0.0132,"b":0.011,"e":0.0082},
      {"c":"Vertical","t":21.76,"a":0.0132,"b":0.011,"e":0.0075},
      {"c":"Vertical","t":23.04,"a":0.0189,"b":0.016,"e":0.0085},
      {"c":"Vertical","t":24.32,"a":0.0239,"b":0.0197,"e":0.0105},
      {"c":"Vertical","t":25.6,"a":0.0201,"b":0.016,"e":0.0115},
      {"c":"Vertical","t":26.88,"a":0.0182,"b":0.0155,"e":0.0125},
      {"c":"Vertical","t":28.16,"a":0.0243,"b":0.022,"e":0.0128},
      {"c":"Vertical","t":29.44,"a":0.0311,"b":0.028,"e":0.0145},
      {"c":"Vertical","t":30.72,"a":0.0334,"b":0.0296,"e":0.014},
      {"c":"Vertical","t":32,"a":0.035,"b":0.031,"e":0.026},
      {"c":"Vertical","t":33.28,"a":0.0319,"b":0.028,"e":0.0255},
      {"c":"Vertical","t":34.56,"a":0.0323,"b":0.0273,"e":0.021},
      {"c":"Vertical","t":35.84,"a":0.0353,"b":0.0296,"e":0.0155},
      {"c":"Vertical","t":37.12,"a":0.0353,"b":0.0296,"e":0.019}
    ],
    "moth_w": [
      {"t":0,"w":0.0308},{"t":0.25,"w":0.0278},{"t":0.5,"w":0.0315},{"t":0.75,"w":0.0294},{"t":1,"w":0.0326},{"t":1.25,"w":0.0286},{"t":1.5,"w":0.0303},{"t":1.75,"w":0.0281},{"t":2,"w":0.0324},{"t":2.25,"w":0.0291},
      {"t":2.5,"w":0.0312},{"t":2.75,"w":0.0273},{"t":3,"w":0.0318},{"t":3.25,"w":0.0296},{"t":3.5,"w":0.0321},{"t":3.75,"w":0.0284},{"t":4,"w":0.0307},{"t":4.25,"w":0.0277},{"t":4.5,"w":0.0313},{"t":4.75,"w":0.0289},
      {"t":5,"w":0.0295},{"t":5.25,"w":0.0319},{"t":5.5,"w":0.0276},{"t":5.75,"w":0.031},{"t":6,"w":0.0285},{"t":6.25,"w":0.0328},{"t":6.5,"w":0.0292},{"t":6.75,"w":0.0314},{"t":7,"w":0.0279},{"t":7.25,"w":0.0305},
      {"t":7.5,"w":0.0283},{"t":7.75,"w":0.0323},{"t":8,"w":0.0288},{"t":8.25,"w":0.032},{"t":8.5,"w":0.0293},{"t":8.75,"w":0.0316},{"t":9,"w":0.0274},{"t":9.25,"w":0.0309},{"t":9.5,"w":0.0287},{"t":9.75,"w":0.0322},
      {"t":10,"w":0.0314},{"t":10.25,"w":0.0291},{"t":10.5,"w":0.0325},{"t":10.75,"w":0.028},{"t":11,"w":0.0306},{"t":11.25,"w":0.0288},{"t":11.5,"w":0.0318},{"t":11.75,"w":0.0272},{"t":12,"w":0.0311},{"t":12.25,"w":0.0297},
      {"t":12.5,"w":0.0322},{"t":12.75,"w":0.0285},{"t":13,"w":0.0309},{"t":13.25,"w":0.0276},{"t":13.5,"w":0.0317},{"t":13.75,"w":0.0294},{"t":14,"w":0.0327},{"t":14.25,"w":0.0282},{"t":14.5,"w":0.0304},{"t":14.75,"w":0.0286},
      {"t":15,"w":0.031},{"t":15.25,"w":0.0274},{"t":15.5,"w":0.0318},{"t":15.75,"w":0.0293},{"t":16,"w":0.0331},{"t":16.25,"w":0.0283},{"t":16.5,"w":0.0304},{"t":16.75,"w":0.026},{"t":17,"w":0.0329},{"t":17.25,"w":0.0289},
      {"t":17.5,"w":0.0314},{"t":17.75,"w":0.0268},{"t":18,"w":0.0322},{"t":18.25,"w":0.0295},{"t":18.5,"w":0.0325},{"t":18.75,"w":0.0281},{"t":19,"w":0.0308},{"t":19.25,"w":0.0272},{"t":19.5,"w":0.0316},{"t":19.75,"w":0.0287},
      {"t":20,"w":0.026},{"t":20.25,"w":0.0355},{"t":20.5,"w":0.022},{"t":20.75,"w":0.0335},{"t":21,"w":0.039},{"t":21.25,"w":0.0205},{"t":21.5,"w":0.036},{"t":21.75,"w":0.0215},{"t":22,"w":0.0388},{"t":22.25,"w":0.027},
      {"t":22.5,"w":0.0372},{"t":22.75,"w":0.0242},{"t":23,"w":0.0366},{"t":23.25,"w":0.0255},{"t":23.5,"w":0.034},{"t":23.75,"w":0.0278},{"t":24,"w":0.0333},{"t":24.25,"w":0.0262},{"t":24.5,"w":0.0312},{"t":24.75,"w":0.033},
      {"t":25,"w":0.032},{"t":25.25,"w":0.0287},{"t":25.5,"w":0.0335},{"t":25.75,"w":0.0272},{"t":26,"w":0.0308},{"t":26.25,"w":0.0283},{"t":26.5,"w":0.0325},{"t":26.75,"w":0.0261},{"t":27,"w":0.0315},{"t":27.25,"w":0.0296},
      {"t":27.5,"w":0.0331},{"t":27.75,"w":0.0279},{"t":28,"w":0.0313},{"t":28.25,"w":0.0266},{"t":28.5,"w":0.0324},{"t":28.75,"w":0.0292},{"t":29,"w":0.0338},{"t":29.25,"w":0.0275},{"t":29.5,"w":0.0306},{"t":29.75,"w":0.028},
      {"t":30,"w":0.0309},{"t":30.25,"w":0.0276},{"t":30.5,"w":0.0317},{"t":30.75,"w":0.0293},{"t":31,"w":0.0329},{"t":31.25,"w":0.0285},{"t":31.5,"w":0.0303},{"t":31.75,"w":0.0279},{"t":32,"w":0.0326},{"t":32.25,"w":0.029},
      {"t":32.5,"w":0.0313},{"t":32.75,"w":0.027},{"t":33,"w":0.032},{"t":33.25,"w":0.0296},{"t":33.5,"w":0.0323},{"t":33.75,"w":0.0282},{"t":34,"w":0.0308},{"t":34.25,"w":0.0275},{"t":34.5,"w":0.0314},{"t":34.75,"w":0.0288},
      {"t":35,"w":0.0294},{"t":35.25,"w":0.0319},{"t":35.5,"w":0.0276},{"t":35.75,"w":0.031},{"t":36,"w":0.0285},{"t":36.25,"w":0.0325},{"t":36.5,"w":0.0292},{"t":36.75,"w":0.0314},{"t":37,"w":0.0279},{"t":37.25,"w":0.0305},
      {"t":37.5,"w":0.0308}
    ],
    "juoh_w": [
      {"t":0,"w":0.0308},{"t":0.25,"w":0.0278},{"t":0.5,"w":0.0315},{"t":0.75,"w":0.0294},{"t":1,"w":0.0326},{"t":1.25,"w":0.0286},{"t":1.5,"w":0.0303},{"t":1.75,"w":0.0281},{"t":2,"w":0.0324},{"t":2.25,"w":0.0291},
      {"t":2.5,"w":0.0312},{"t":2.75,"w":0.0273},{"t":3,"w":0.0318},{"t":3.25,"w":0.0296},{"t":3.5,"w":0.0321},{"t":3.75,"w":0.0284},{"t":4,"w":0.0307},{"t":4.25,"w":0.0277},{"t":4.5,"w":0.0313},{"t":4.75,"w":0.0289},
      {"t":5,"w":0.0295},{"t":5.25,"w":0.0319},{"t":5.5,"w":0.0276},{"t":5.75,"w":0.031},{"t":6,"w":0.0285},{"t":6.25,"w":0.0328},{"t":6.5,"w":0.0292},{"t":6.75,"w":0.0314},{"t":7,"w":0.0279},{"t":7.25,"w":0.0305},
      {"t":7.5,"w":0.0283},{"t":7.75,"w":0.0323},{"t":8,"w":0.0288},{"t":8.25,"w":0.032},{"t":8.5,"w":0.0289},{"t":8.75,"w":0.0326},{"t":9,"w":0.0258},{"t":9.25,"w":0.0314},{"t":9.5,"w":0.0279},{"t":9.75,"w":0.0335},
      {"t":10,"w":0.0322},{"t":10.25,"w":0.0286},{"t":10.5,"w":0.034},{"t":10.75,"w":0.0268},{"t":11,"w":0.031},{"t":11.25,"w":0.0281},{"t":11.5,"w":0.0329},{"t":11.75,"w":0.0255},{"t":12,"w":0.0318},{"t":12.25,"w":0.0295},
      {"t":12.5,"w":0.0335},{"t":12.75,"w":0.0276},{"t":13,"w":0.0314},{"t":13.25,"w":0.0262},{"t":13.5,"w":0.0327},{"t":13.75,"w":0.029},{"t":14,"w":0.0343},{"t":14.25,"w":0.0271},{"t":14.5,"w":0.0306},{"t":14.75,"w":0.0278},
      {"t":15,"w":0.0318},{"t":15.25,"w":0.0252},{"t":15.5,"w":0.0333},{"t":15.75,"w":0.0287},{"t":16,"w":0.0357},{"t":16.25,"w":0.0269},{"t":16.5,"w":0.0307},{"t":16.75,"w":0.0258},{"t":17,"w":0.0353},{"t":17.25,"w":0.028},
      {"t":17.5,"w":0.0326},{"t":17.75,"w":0.0241},{"t":18,"w":0.034},{"t":18.25,"w":0.0291},{"t":18.5,"w":0.0346},{"t":18.75,"w":0.0265},{"t":19,"w":0.0315},{"t":19.25,"w":0.0249},{"t":19.5,"w":0.0329},{"t":19.75,"w":0.0276},
      {"t":20,"w":0.0289},{"t":20.25,"w":0.0342},{"t":20.5,"w":0.0247},{"t":20.75,"w":0.0322},{"t":21,"w":0.0267},{"t":21.25,"w":0.0362},{"t":21.5,"w":0.0282},{"t":21.75,"w":0.0331},{"t":22,"w":0.0254},{"t":22.25,"w":0.0311},
      {"t":22.5,"w":0.0263},{"t":22.75,"w":0.0351},{"t":23,"w":0.0274},{"t":23.25,"w":0.0344},{"t":23.5,"w":0.0285},{"t":23.75,"w":0.0335},{"t":24,"w":0.0243},{"t":24.25,"w":0.032},{"t":24.5,"w":0.0271},{"t":24.75,"w":0.0348},
      {"t":25,"w":0.0325},{"t":25.25,"w":0.0284},{"t":25.5,"w":0.0345},{"t":25.75,"w":0.0264},{"t":26,"w":0.0311},{"t":26.25,"w":0.0278},{"t":26.5,"w":0.0332},{"t":26.75,"w":0.025},{"t":27,"w":0.032},{"t":27.25,"w":0.0295},
      {"t":27.5,"w":0.034},{"t":27.75,"w":0.0273},{"t":28,"w":0.0316},{"t":28.25,"w":0.0257},{"t":28.5,"w":0.0331},{"t":28.75,"w":0.0289},{"t":29,"w":0.0349},{"t":29.25,"w":0.0268},{"t":29.5,"w":0.0307},{"t":29.75,"w":0.0275},
      {"t":30,"w":0.0314},{"t":30.25,"w":0.0263},{"t":30.5,"w":0.0326},{"t":30.75,"w":0.029},{"t":31,"w":0.0344},{"t":31.25,"w":0.0276},{"t":31.5,"w":0.0305},{"t":31.75,"w":0.0268},{"t":32,"w":0.0341},{"t":32.25,"w":0.0285},
      {"t":32.5,"w":0.032},{"t":32.75,"w":0.0254},{"t":33,"w":0.0331},{"t":33.25,"w":0.0293},{"t":33.5,"w":0.0336},{"t":33.75,"w":0.0273},{"t":34,"w":0.0312},{"t":34.25,"w":0.0261},{"t":34.5,"w":0.0322},{"t":34.75,"w":0.0281},
      {"t":35,"w":0.0291},{"t":35.25,"w":0.0332},{"t":35.5,"w":0.0259},{"t":35.75,"w":0.0317},{"t":36,"w":0.0274},{"t":36.25,"w":0.0348},{"t":36.5,"w":0.0286},{"t":36.75,"w":0.0324},{"t":37,"w":0.0264},{"t":37.25,"w":0.0309},
      {"t":37.5,"w":0.0305}
    ],
    "jhkh_w": [
      {"t":0,"w":0.0295},{"t":0.25,"w":0.0319},{"t":0.5,"w":0.0276},{"t":0.75,"w":0.031},{"t":1,"w":0.0285},{"t":1.25,"w":0.0328},{"t":1.5,"w":0.0292},{"t":1.75,"w":0.0314},{"t":2,"w":0.0279},{"t":2.25,"w":0.0305},
      {"t":2.5,"w":0.0283},{"t":2.75,"w":0.0323},{"t":3,"w":0.0288},{"t":3.25,"w":0.032},{"t":3.5,"w":0.0293},{"t":3.75,"w":0.0316},{"t":4,"w":0.0274},{"t":4.25,"w":0.0309},{"t":4.5,"w":0.0287},{"t":4.75,"w":0.0322},
      {"t":5,"w":0.0314},{"t":5.25,"w":0.0291},{"t":5.5,"w":0.0325},{"t":5.75,"w":0.028},{"t":6,"w":0.0306},{"t":6.25,"w":0.0288},{"t":6.5,"w":0.0318},{"t":6.75,"w":0.0272},{"t":7,"w":0.0311},{"t":7.25,"w":0.0297},
      {"t":7.5,"w":0.0322},{"t":7.75,"w":0.0285},{"t":8,"w":0.0309},{"t":8.25,"w":0.0276},{"t":8.5,"w":0.0317},{"t":8.75,"w":0.0294},{"t":9,"w":0.0327},{"t":9.25,"w":0.0282},{"t":9.5,"w":0.0304},{"t":9.75,"w":0.0286},
      {"t":10,"w":0.0308},{"t":10.25,"w":0.0278},{"t":10.5,"w":0.0315},{"t":10.75,"w":0.0294},{"t":11,"w":0.0326},{"t":11.25,"w":0.0286},{"t":11.5,"w":0.0303},{"t":11.75,"w":0.0281},{"t":12,"w":0.0324},{"t":12.25,"w":0.0291},
      {"t":12.5,"w":0.0312},{"t":12.75,"w":0.0273},{"t":13,"w":0.0318},{"t":13.25,"w":0.0296},{"t":13.5,"w":0.0321},{"t":13.75,"w":0.0284},{"t":14,"w":0.0307},{"t":14.25,"w":0.0277},{"t":14.5,"w":0.0313},{"t":14.75,"w":0.0289},
      {"t":15,"w":0.0291},{"t":15.25,"w":0.0332},{"t":15.5,"w":0.0259},{"t":15.75,"w":0.0317},{"t":16,"w":0.0274},{"t":16.25,"w":0.0348},{"t":16.5,"w":0.0286},{"t":16.75,"w":0.0324},{"t":17,"w":0.0264},{"t":17.25,"w":0.0309},
      {"t":17.5,"w":0.0271},{"t":17.75,"w":0.0339},{"t":18,"w":0.028},{"t":18.25,"w":0.0334},{"t":18.5,"w":0.0288},{"t":18.75,"w":0.0327},{"t":19,"w":0.0256},{"t":19.25,"w":0.0315},{"t":19.5,"w":0.0278},{"t":19.75,"w":0.0337},
      {"t":20,"w":0.0325},{"t":20.25,"w":0.0284},{"t":20.5,"w":0.0345},{"t":20.75,"w":0.0264},{"t":21,"w":0.0311},{"t":21.25,"w":0.0278},{"t":21.5,"w":0.0332},{"t":21.75,"w":0.025},{"t":22,"w":0.032},{"t":22.25,"w":0.0295},
      {"t":22.5,"w":0.034},{"t":22.75,"w":0.0273},{"t":23,"w":0.0316},{"t":23.25,"w":0.0257},{"t":23.5,"w":0.0331},{"t":23.75,"w":0.0289},{"t":24,"w":0.0349},{"t":24.25,"w":0.0268},{"t":24.5,"w":0.0307},{"t":24.75,"w":0.0275},
      {"t":25,"w":0.0314},{"t":25.25,"w":0.0263},{"t":25.5,"w":0.0326},{"t":25.75,"w":0.029},{"t":26,"w":0.0344},{"t":26.25,"w":0.0276},{"t":26.5,"w":0.0305},{"t":26.75,"w":0.0268},{"t":27,"w":0.0341},{"t":27.25,"w":0.0285},
      {"t":27.5,"w":0.032},{"t":27.75,"w":0.0254},{"t":28,"w":0.0331},{"t":28.25,"w":0.0293},{"t":28.5,"w":0.0336},{"t":28.75,"w":0.0282},{"t":29,"w":0.0308},{"t":29.25,"w":0.0275},{"t":29.5,"w":0.0314},{"t":29.75,"w":0.0288},
      {"t":30,"w":0.0294},{"t":30.25,"w":0.0321},{"t":30.5,"w":0.0274},{"t":30.75,"w":0.0311},{"t":31,"w":0.0283},{"t":31.25,"w":0.0331},{"t":31.5,"w":0.0291},{"t":31.75,"w":0.0315},{"t":32,"w":0.0277},{"t":32.25,"w":0.0306},
      {"t":32.5,"w":0.0281},{"t":32.75,"w":0.0325},{"t":33,"w":0.0287},{"t":33.25,"w":0.0322},{"t":33.5,"w":0.0292},{"t":33.75,"w":0.0318},{"t":34,"w":0.0271},{"t":34.25,"w":0.031},{"t":34.5,"w":0.0286},{"t":34.75,"w":0.0324},
      {"t":35,"w":0.0314},{"t":35.25,"w":0.0291},{"t":35.5,"w":0.0325},{"t":35.75,"w":0.028},{"t":36,"w":0.0306},{"t":36.25,"w":0.0288},{"t":36.5,"w":0.0318},{"t":36.75,"w":0.0272},{"t":37,"w":0.0311},{"t":37.25,"w":0.0297},
      {"t":37.5,"w":0.0305}
    ],
    "htkh_w": [
      {"t":0,"w":0.0314},{"t":0.25,"w":0.0291},{"t":0.5,"w":0.0325},{"t":0.75,"w":0.028},{"t":1,"w":0.0306},{"t":1.25,"w":0.0288},{"t":1.5,"w":0.0318},{"t":1.75,"w":0.0272},{"t":2,"w":0.0311},{"t":2.25,"w":0.0297},
      {"t":2.5,"w":0.0322},{"t":2.75,"w":0.0285},{"t":3,"w":0.0309},{"t":3.25,"w":0.0276},{"t":3.5,"w":0.0317},{"t":3.75,"w":0.0294},{"t":4,"w":0.0327},{"t":4.25,"w":0.0282},{"t":4.5,"w":0.0304},{"t":4.75,"w":0.0286},
      {"t":5,"w":0.0308},{"t":5.25,"w":0.0278},{"t":5.5,"w":0.0315},{"t":5.75,"w":0.0294},{"t":6,"w":0.0326},{"t":6.25,"w":0.0286},{"t":6.5,"w":0.0303},{"t":6.75,"w":0.0281},{"t":7,"w":0.0324},{"t":7.25,"w":0.0291},
      {"t":7.5,"w":0.0312},{"t":7.75,"w":0.0273},{"t":8,"w":0.0318},{"t":8.25,"w":0.0296},{"t":8.5,"w":0.0321},{"t":8.75,"w":0.0284},{"t":9,"w":0.0307},{"t":9.25,"w":0.0277},{"t":9.5,"w":0.0313},{"t":9.75,"w":0.0289},
      {"t":10,"w":0.0295},{"t":10.25,"w":0.0319},{"t":10.5,"w":0.0276},{"t":10.75,"w":0.031},{"t":11,"w":0.0285},{"t":11.25,"w":0.0328},{"t":11.5,"w":0.0292},{"t":11.75,"w":0.0314},{"t":12,"w":0.0279},{"t":12.25,"w":0.0305},
      {"t":12.5,"w":0.0283},{"t":12.75,"w":0.0323},{"t":13,"w":0.0288},{"t":13.25,"w":0.032},{"t":13.5,"w":0.0335},{"t":13.75,"w":0.0255},{"t":14,"w":0.036},{"t":14.25,"w":0.0215},{"t":14.5,"w":0.038},{"t":14.75,"w":0.017},
      {"t":15,"w":0.0375},{"t":15.25,"w":0.0245},{"t":15.5,"w":0.0338},{"t":15.75,"w":0.0285},{"t":16,"w":0.0365},{"t":16.25,"w":0.0265},{"t":16.5,"w":0.0308},{"t":16.75,"w":0.0252},{"t":17,"w":0.036},{"t":17.25,"w":0.0277},
      {"t":17.5,"w":0.033},{"t":17.75,"w":0.0232},{"t":18,"w":0.0345},{"t":18.25,"w":0.029},{"t":18.5,"w":0.0353},{"t":18.75,"w":0.026},{"t":19,"w":0.0318},{"t":19.25,"w":0.0242},{"t":19.5,"w":0.0333},{"t":19.75,"w":0.0272},
      {"t":20,"w":0.0321},{"t":20.25,"w":0.0286},{"t":20.5,"w":0.0338},{"t":20.75,"w":0.027},{"t":21,"w":0.0309},{"t":21.25,"w":0.0282},{"t":21.5,"w":0.0327},{"t":21.75,"w":0.0258},{"t":22,"w":0.0317},{"t":22.25,"w":0.0295},
      {"t":22.5,"w":0.0333},{"t":22.75,"w":0.0278},{"t":23,"w":0.0314},{"t":23.25,"w":0.0264},{"t":23.5,"w":0.032},{"t":23.75,"w":0.0294},{"t":24,"w":0.0322},{"t":24.25,"w":0.0286},{"t":24.5,"w":0.0304},{"t":24.75,"w":0.0289},
      {"t":25,"w":0.0296},{"t":25.25,"w":0.0315},{"t":25.5,"w":0.0281},{"t":25.75,"w":0.0308},{"t":26,"w":0.0288},{"t":26.25,"w":0.0322},{"t":26.5,"w":0.0294},{"t":26.75,"w":0.0311},{"t":27,"w":0.0283},{"t":27.25,"w":0.0304},
      {"t":27.5,"w":0.0286},{"t":27.75,"w":0.0318},{"t":28,"w":0.029},{"t":28.25,"w":0.0316},{"t":28.5,"w":0.0294},{"t":28.75,"w":0.0313},{"t":29,"w":0.0279},{"t":29.25,"w":0.0307},{"t":29.5,"w":0.029},{"t":29.75,"w":0.0318},
      {"t":30,"w":0.0306},{"t":30.25,"w":0.0282},{"t":30.5,"w":0.0312},{"t":30.75,"w":0.0295},{"t":31,"w":0.0321},{"t":31.25,"w":0.0289},{"t":31.5,"w":0.0302},{"t":31.75,"w":0.0285},{"t":32,"w":0.0319},{"t":32.25,"w":0.0293},
      {"t":32.5,"w":0.031},{"t":32.75,"w":0.0278},{"t":33,"w":0.0314},{"t":33.25,"w":0.0297},{"t":33.5,"w":0.0317},{"t":33.75,"w":0.0287},{"t":34,"w":0.0306},{"t":34.25,"w":0.0282},{"t":34.5,"w":0.031},{"t":34.75,"w":0.0291},
      {"t":35,"w":0.0311},{"t":35.25,"w":0.0293},{"t":35.5,"w":0.032},{"t":35.75,"w":0.0284},{"t":36,"w":0.0305},{"t":36.25,"w":0.029},{"t":36.5,"w":0.0314},{"t":36.75,"w":0.0278},{"t":37,"w":0.0309},{"t":37.25,"w":0.0298},
      {"t":37.5,"w":0.0305}
    ],
    "edsh_w": [
      {"t":0,"w":0.0308},{"t":0.25,"w":0.0278},{"t":0.5,"w":0.0315},{"t":0.75,"w":0.0294},{"t":1,"w":0.0326},{"t":1.25,"w":0.0286},{"t":1.5,"w":0.0303},{"t":1.75,"w":0.0281},{"t":2,"w":0.0324},{"t":2.25,"w":0.0291},
      {"t":2.5,"w":0.0312},{"t":2.75,"w":0.0273},{"t":3,"w":0.0318},{"t":3.25,"w":0.0296},{"t":3.5,"w":0.0345},{"t":3.75,"w":0.0265},{"t":4,"w":0.0307},{"t":4.25,"w":0.0277},{"t":4.5,"w":0.0313},{"t":4.75,"w":0.0289},
      {"t":5,"w":0.0314},{"t":5.25,"w":0.0291},{"t":5.5,"w":0.0325},{"t":5.75,"w":0.028},{"t":6,"w":0.0306},{"t":6.25,"w":0.0288},{"t":6.5,"w":0.0318},{"t":6.75,"w":0.0272},{"t":7,"w":0.0311},{"t":7.25,"w":0.0297},
      {"t":7.5,"w":0.0322},{"t":7.75,"w":0.0285},{"t":8,"w":0.0309},{"t":8.25,"w":0.0276},{"t":8.5,"w":0.0317},{"t":8.75,"w":0.0294},{"t":9,"w":0.0327},{"t":9.25,"w":0.0282},{"t":9.5,"w":0.0304},{"t":9.75,"w":0.0286},
      {"t":10,"w":0.0295},{"t":10.25,"w":0.0319},{"t":10.5,"w":0.0276},{"t":10.75,"w":0.031},{"t":11,"w":0.0285},{"t":11.25,"w":0.0328},{"t":11.5,"w":0.0292},{"t":11.75,"w":0.0314},{"t":12,"w":0.0279},{"t":12.25,"w":0.0305},
      {"t":12.5,"w":0.0283},{"t":12.75,"w":0.0323},{"t":13,"w":0.0288},{"t":13.25,"w":0.032},{"t":13.5,"w":0.0293},{"t":13.75,"w":0.0316},{"t":14,"w":0.0274},{"t":14.25,"w":0.0309},{"t":14.5,"w":0.0287},{"t":14.75,"w":0.0322},
      {"t":15,"w":0.0308},{"t":15.25,"w":0.0278},{"t":15.5,"w":0.0315},{"t":15.75,"w":0.0294},{"t":16,"w":0.0326},{"t":16.25,"w":0.0286},{"t":16.5,"w":0.0307},{"t":16.75,"w":0.0258},{"t":17,"w":0.0353},{"t":17.25,"w":0.028},
      {"t":17.5,"w":0.0326},{"t":17.75,"w":0.0241},{"t":18,"w":0.034},{"t":18.25,"w":0.0291},{"t":18.5,"w":0.0346},{"t":18.75,"w":0.0265},{"t":19,"w":0.0315},{"t":19.25,"w":0.0249},{"t":19.5,"w":0.0329},{"t":19.75,"w":0.0276},
      {"t":20,"w":0.0328},{"t":20.25,"w":0.0282},{"t":20.5,"w":0.035},{"t":20.75,"w":0.026},{"t":21,"w":0.0312},{"t":21.25,"w":0.0276},{"t":21.5,"w":0.0336},{"t":21.75,"w":0.0244},{"t":22,"w":0.0322},{"t":22.25,"w":0.0294},
      {"t":22.5,"w":0.0344},{"t":22.75,"w":0.027},{"t":23,"w":0.0318},{"t":23.25,"w":0.0252},{"t":23.5,"w":0.0334},{"t":23.75,"w":0.0292},{"t":24,"w":0.0335},{"t":24.25,"w":0.0277},{"t":24.5,"w":0.0305},{"t":24.75,"w":0.0282},
      {"t":25,"w":0.0294},{"t":25.25,"w":0.0321},{"t":25.5,"w":0.0274},{"t":25.75,"w":0.0311},{"t":26,"w":0.0283},{"t":26.25,"w":0.0331},{"t":26.5,"w":0.0291},{"t":26.75,"w":0.0315},{"t":27,"w":0.0277},{"t":27.25,"w":0.0306},
      {"t":27.5,"w":0.0281},{"t":27.75,"w":0.0325},{"t":28,"w":0.0287},{"t":28.25,"w":0.0322},{"t":28.5,"w":0.0292},{"t":28.75,"w":0.0318},{"t":29,"w":0.0271},{"t":29.25,"w":0.031},{"t":29.5,"w":0.0286},{"t":29.75,"w":0.0324},
      {"t":30,"w":0.0308},{"t":30.25,"w":0.0278},{"t":30.5,"w":0.0315},{"t":30.75,"w":0.0294},{"t":31,"w":0.0326},{"t":31.25,"w":0.0286},{"t":31.5,"w":0.0303},{"t":31.75,"w":0.0281},{"t":32,"w":0.0324},{"t":32.25,"w":0.0291},
      {"t":32.5,"w":0.0312},{"t":32.75,"w":0.0273},{"t":33,"w":0.0318},{"t":33.25,"w":0.0296},{"t":33.5,"w":0.0321},{"t":33.75,"w":0.0284},{"t":34,"w":0.0307},{"t":34.25,"w":0.0277},{"t":34.5,"w":0.0313},{"t":34.75,"w":0.0289},
      {"t":35,"w":0.0314},{"t":35.25,"w":0.0291},{"t":35.5,"w":0.0325},{"t":35.75,"w":0.028},{"t":36,"w":0.0306},{"t":36.25,"w":0.0288},{"t":36.5,"w":0.0318},{"t":36.75,"w":0.0272},{"t":37,"w":0.0311},{"t":37.25,"w":0.0297},
      {"t":37.5,"w":0.0305}
    ],
    "tyoh_w": [
      {"t":0,"w":0.0295},{"t":0.25,"w":0.0319},{"t":0.5,"w":0.0276},{"t":0.75,"w":0.031},{"t":1,"w":0.0285},{"t":1.25,"w":0.0328},{"t":1.5,"w":0.0292},{"t":1.75,"w":0.0314},{"t":2,"w":0.0279},{"t":2.25,"w":0.0305},
      {"t":2.5,"w":0.0283},{"t":2.75,"w":0.0323},{"t":3,"w":0.0288},{"t":3.25,"w":0.032},{"t":3.5,"w":0.0293},{"t":3.75,"w":0.0316},{"t":4,"w":0.0274},{"t":4.25,"w":0.0309},{"t":4.5,"w":0.0287},{"t":4.75,"w":0.0322},
      {"t":5,"w":0.0308},{"t":5.25,"w":0.0278},{"t":5.5,"w":0.0315},{"t":5.75,"w":0.0294},{"t":6,"w":0.0326},{"t":6.25,"w":0.0286},{"t":6.5,"w":0.0303},{"t":6.75,"w":0.0281},{"t":7,"w":0.0324},{"t":7.25,"w":0.0291},
      {"t":7.5,"w":0.0312},{"t":7.75,"w":0.0273},{"t":8,"w":0.0318},{"t":8.25,"w":0.0296},{"t":8.5,"w":0.0321},{"t":8.75,"w":0.0284},{"t":9,"w":0.0307},{"t":9.25,"w":0.0277},{"t":9.5,"w":0.0313},{"t":9.75,"w":0.0289},
      {"t":10,"w":0.0314},{"t":10.25,"w":0.0291},{"t":10.5,"w":0.0325},{"t":10.75,"w":0.028},{"t":11,"w":0.0306},{"t":11.25,"w":0.0288},{"t":11.5,"w":0.0318},{"t":11.75,"w":0.0272},{"t":12,"w":0.0311},{"t":12.25,"w":0.0297},
      {"t":12.5,"w":0.0322},{"t":12.75,"w":0.0285},{"t":13,"w":0.0309},{"t":13.25,"w":0.0276},{"t":13.5,"w":0.0317},{"t":13.75,"w":0.0294},{"t":14,"w":0.0343},{"t":14.25,"w":0.0271},{"t":14.5,"w":0.0306},{"t":14.75,"w":0.0278},
      {"t":15,"w":0.0289},{"t":15.25,"w":0.0342},{"t":15.5,"w":0.0247},{"t":15.75,"w":0.0322},{"t":16,"w":0.0267},{"t":16.25,"w":0.0362},{"t":16.5,"w":0.0282},{"t":16.75,"w":0.0331},{"t":17,"w":0.038},{"t":17.25,"w":0.0311},
      {"t":17.5,"w":0.0263},{"t":17.75,"w":0.0235},{"t":18,"w":0.0274},{"t":18.25,"w":0.0344},{"t":18.5,"w":0.0285},{"t":18.75,"w":0.0335},{"t":19,"w":0.0243},{"t":19.25,"w":0.032},{"t":19.5,"w":0.0271},{"t":19.75,"w":0.0348},
      {"t":20,"w":0.0316},{"t":20.25,"w":0.0256},{"t":20.5,"w":0.033},{"t":20.75,"w":0.0288},{"t":21,"w":0.0352},{"t":21.25,"w":0.0272},{"t":21.5,"w":0.0306},{"t":21.75,"w":0.0262},{"t":22,"w":0.0348},{"t":22.25,"w":0.0282},
      {"t":22.5,"w":0.0324},{"t":22.75,"w":0.0246},{"t":23,"w":0.0336},{"t":23.25,"w":0.0292},{"t":23.5,"w":0.0342},{"t":23.75,"w":0.0268},{"t":24,"w":0.031},{"t":24.25,"w":0.027},{"t":24.5,"w":0.0318},{"t":24.75,"w":0.0285},
      {"t":25,"w":0.0315},{"t":25.25,"w":0.029},{"t":25.5,"w":0.0328},{"t":25.75,"w":0.0278},{"t":26,"w":0.0307},{"t":26.25,"w":0.0287},{"t":26.5,"w":0.032},{"t":26.75,"w":0.0269},{"t":27,"w":0.0312},{"t":27.25,"w":0.0297},
      {"t":27.5,"w":0.0324},{"t":27.75,"w":0.0283},{"t":28,"w":0.031},{"t":28.25,"w":0.0274},{"t":28.5,"w":0.0319},{"t":28.75,"w":0.0293},{"t":29,"w":0.033},{"t":29.25,"w":0.028},{"t":29.5,"w":0.0304},{"t":29.75,"w":0.0285},
      {"t":30,"w":0.0295},{"t":30.25,"w":0.0319},{"t":30.5,"w":0.0276},{"t":30.75,"w":0.031},{"t":31,"w":0.0285},{"t":31.25,"w":0.0328},{"t":31.5,"w":0.0292},{"t":31.75,"w":0.0314},{"t":32,"w":0.0279},{"t":32.25,"w":0.0305},
      {"t":32.5,"w":0.0283},{"t":32.75,"w":0.0323},{"t":33,"w":0.0288},{"t":33.25,"w":0.032},{"t":33.5,"w":0.0293},{"t":33.75,"w":0.0316},{"t":34,"w":0.0274},{"t":34.25,"w":0.0309},{"t":34.5,"w":0.0287},{"t":34.75,"w":0.0322},
      {"t":35,"w":0.0308},{"t":35.25,"w":0.0278},{"t":35.5,"w":0.0315},{"t":35.75,"w":0.0294},{"t":36,"w":0.0326},{"t":36.25,"w":0.0286},{"t":36.5,"w":0.0303},{"t":36.75,"w":0.0281},{"t":37,"w":0.0324},{"t":37.25,"w":0.0291},
      {"t":37.5,"w":0.0305}
    ]
  },
  "concat": [
    {
      "title": "N.MOTH−D",
      "width": 408, "height": 349,
      "resolve": {"axis": {"x": "independent", "y": "independent"}},
      "layer": [
        {"data": {"values": [{"s": 18.1}]}, "mark": {"type": "rule", "color": "black", "strokeWidth": 1.2, "strokeDash": [3, 3]},
         "encoding": {"x": {"field": "s", "type": "quantitative", "scale": {"domain": [0, 37.5], "nice": false, "zero": false}, "axis": null}}},
        {"data": {"values": [{"z": 0}]}, "mark": {"type": "rule", "color": "#808080", "strokeWidth": 1.5},
         "encoding": {"y": {"field": "z", "type": "quantitative", "scale": {"domain": [-0.02, 0.06], "nice": false, "zero": false}, "axis": null}}},
        {"data": {"name": "moth_w"}, "mark": {"type": "line", "color": "black", "strokeWidth": 1, "clip": true},
         "encoding": {
           "x": {"field": "t", "type": "quantitative", "scale": {"domain": [0, 37.5], "nice": false, "zero": false}, "axis": {"orient": "bottom", "values": [0, 10, 20, 30], "format": "d", "tickSize": 10, "tickWidth": 1.5, "labelPadding": 3, "labelFlush": false, "title": "Lapse time after P−onset (s)", "titlePadding": 13}},
           "y": {"field": "w", "type": "quantitative", "scale": {"domain": [-0.02, 0.06], "nice": false, "zero": false}, "axis": {"orient": "left", "values": [-0.02, 0, 0.02, 0.04, 0.06], "format": ".2f", "tickSize": 10, "tickWidth": 1.5, "labelPadding": 7, "labelFlush": false, "title": "Phase delay time (s)", "titlePadding": 6}}}},
        {"data": {"name": "moth"}, "mark": {"type": "errorbar", "ticks": {"size": 13, "thickness": 1}, "rule": {"strokeWidth": 1}, "opacity": 0.45, "clip": true},
         "encoding": {
           "x": {"field": "t", "type": "quantitative", "axis": {"orient": "bottom", "values": [1,2,3,4,5,6,7,8,9,11,12,13,14,15,16,17,18,19,21,22,23,24,25,26,27,28,29,31,32,33,34,35,36,37], "tickSize": 5, "tickWidth": 1, "labels": false, "title": null}},
           "y": {"field": "b", "type": "quantitative", "axis": {"orient": "left", "values": [-0.018,-0.016,-0.014,-0.012,-0.01,-0.008,-0.006,-0.004,-0.002,0.002,0.004,0.006,0.008,0.01,0.012,0.014,0.016,0.018,0.022,0.024,0.026,0.028,0.03,0.032,0.034,0.036,0.038,0.042,0.044,0.046,0.048,0.05,0.052,0.054,0.056,0.058], "tickSize": 5, "tickWidth": 1, "labels": false, "title": null}},
           "yError": {"field": "e"},
           "color": {"field": "c", "type": "nominal"}}},
        {"data": {"name": "moth"}, "mark": {"type": "errorbar", "ticks": {"size": 13, "thickness": 1}, "rule": {"strokeWidth": 1}, "opacity": 0.85, "clip": true},
         "encoding": {
           "x": {"field": "t", "type": "quantitative", "axis": {"orient": "top", "values": [0, 10, 20, 30], "tickSize": 10, "tickWidth": 1.5, "labels": false, "title": null}},
           "y": {"field": "a", "type": "quantitative", "axis": {"orient": "right", "values": [-0.02, 0, 0.02, 0.04, 0.06], "tickSize": 10, "tickWidth": 1.5, "labels": false, "title": null}},
           "yError": {"field": "e"},
           "color": {"field": "c", "type": "nominal"}}},
        {"data": {"name": "moth"}, "mark": {"type": "line", "strokeWidth": 4.5, "strokeDash": [5, 5], "strokeCap": "butt", "clip": true},
         "encoding": {
           "x": {"field": "t", "type": "quantitative", "axis": {"orient": "top", "values": [1,2,3,4,5,6,7,8,9,11,12,13,14,15,16,17,18,19,21,22,23,24,25,26,27,28,29,31,32,33,34,35,36,37], "tickSize": 5, "tickWidth": 1, "labels": false, "title": null}},
           "y": {"field": "b", "type": "quantitative", "axis": {"orient": "right", "values": [-0.018,-0.016,-0.014,-0.012,-0.01,-0.008,-0.006,-0.004,-0.002,0.002,0.004,0.006,0.008,0.01,0.012,0.014,0.016,0.018,0.022,0.024,0.026,0.028,0.03,0.032,0.034,0.036,0.038,0.042,0.044,0.046,0.048,0.05,0.052,0.054,0.056,0.058], "tickSize": 5, "tickWidth": 1, "labels": false, "title": null}},
           "color": {"field": "c", "type": "nominal"}}},
        {"data": {"name": "moth"}, "mark": {"type": "line", "strokeWidth": 4.5, "clip": true},
         "encoding": {
           "x": {"field": "t", "type": "quantitative", "axis": null},
           "y": {"field": "a", "type": "quantitative", "axis": null},
           "color": {"field": "c", "type": "nominal",
             "scale": {"domain": ["Transverse", "Radial", "Vertical", "30 Jun. 2011", "11 Dec. 2011"], "range": ["#00ff00", "#ff0000", "#0000ff", "#000000", "#000000"]},
             "legend": {"orient": "none", "legendX": 19, "legendY": 7, "title": null, "symbolType": "stroke", "symbolSize": 400, "symbolStrokeWidth": 5, "symbolOpacity": 1, "labelFont": "Liberation Sans", "labelFontSize": 21, "labelFontWeight": "bold", "labelColor": "black", "labelOffset": 8, "rowPadding": 0, "padding": 0,
               "encode": {"symbols": {"update": {"strokeDash": {"signal": "datum.value === '11 Dec. 2011' ? [5, 4] : null"}}}}}}}}
      ]
    },
    {
      "title": "N.JUOH−D",
      "width": 408, "height": 349,
      "resolve": {"axis": {"x": "independent", "y": "independent"}},
      "layer": [
        {"data": {"values": [{"s": 15.3}]}, "mark": {"type": "rule", "color": "black", "strokeWidth": 1.2, "strokeDash": [3, 3]},
         "encoding": {"x": {"field": "s", "type": "quantitative", "scale": {"domain": [0, 37.5], "nice": false, "zero": false}, "axis": null}}},
        {"data": {"values": [{"z": 0}]}, "mark": {"type": "rule", "color": "#808080", "strokeWidth": 1.5},
         "encoding": {"y": {"field": "z", "type": "quantitative", "scale": {"domain": [-0.02, 0.06], "nice": false, "zero": false}, "axis": null}}},
        {"data": {"name": "juoh_w"}, "mark": {"type": "line", "color": "black", "strokeWidth": 1, "clip": true},
         "encoding": {
           "x": {"field": "t", "type": "quantitative", "scale": {"domain": [0, 37.5], "nice": false, "zero": false}, "axis": {"orient": "bottom", "values": [0, 10, 20, 30], "format": "d", "tickSize": 10, "tickWidth": 1.5, "labelPadding": 3, "labelFlush": false, "title": "Lapse time after P−onset (s)", "titlePadding": 13}},
           "y": {"field": "w", "type": "quantitative", "scale": {"domain": [-0.02, 0.06], "nice": false, "zero": false}, "axis": {"orient": "left", "values": [-0.02, 0, 0.02, 0.04, 0.06], "format": ".2f", "tickSize": 10, "tickWidth": 1.5, "labelPadding": 7, "labelFlush": false, "title": "Phase delay time (s)", "titlePadding": 6}}}},
        {"data": {"name": "juoh"}, "mark": {"type": "errorbar", "ticks": {"size": 13, "thickness": 1}, "rule": {"strokeWidth": 1}, "opacity": 0.45, "clip": true},
         "encoding": {
           "x": {"field": "t", "type": "quantitative", "axis": {"orient": "bottom", "values": [1,2,3,4,5,6,7,8,9,11,12,13,14,15,16,17,18,19,21,22,23,24,25,26,27,28,29,31,32,33,34,35,36,37], "tickSize": 5, "tickWidth": 1, "labels": false, "title": null}},
           "y": {"field": "b", "type": "quantitative", "axis": {"orient": "left", "values": [-0.018,-0.016,-0.014,-0.012,-0.01,-0.008,-0.006,-0.004,-0.002,0.002,0.004,0.006,0.008,0.01,0.012,0.014,0.016,0.018,0.022,0.024,0.026,0.028,0.03,0.032,0.034,0.036,0.038,0.042,0.044,0.046,0.048,0.05,0.052,0.054,0.056,0.058], "tickSize": 5, "tickWidth": 1, "labels": false, "title": null}},
           "yError": {"field": "e"},
           "color": {"field": "c", "type": "nominal"}}},
        {"data": {"name": "juoh"}, "mark": {"type": "errorbar", "ticks": {"size": 13, "thickness": 1}, "rule": {"strokeWidth": 1}, "opacity": 0.85, "clip": true},
         "encoding": {
           "x": {"field": "t", "type": "quantitative", "axis": {"orient": "top", "values": [0, 10, 20, 30], "tickSize": 10, "tickWidth": 1.5, "labels": false, "title": null}},
           "y": {"field": "a", "type": "quantitative", "axis": {"orient": "right", "values": [-0.02, 0, 0.02, 0.04, 0.06], "tickSize": 10, "tickWidth": 1.5, "labels": false, "title": null}},
           "yError": {"field": "e"},
           "color": {"field": "c", "type": "nominal"}}},
        {"data": {"name": "juoh"}, "mark": {"type": "line", "strokeWidth": 4.5, "strokeDash": [5, 5], "strokeCap": "butt", "clip": true},
         "encoding": {
           "x": {"field": "t", "type": "quantitative", "axis": {"orient": "top", "values": [1,2,3,4,5,6,7,8,9,11,12,13,14,15,16,17,18,19,21,22,23,24,25,26,27,28,29,31,32,33,34,35,36,37], "tickSize": 5, "tickWidth": 1, "labels": false, "title": null}},
           "y": {"field": "b", "type": "quantitative", "axis": {"orient": "right", "values": [-0.018,-0.016,-0.014,-0.012,-0.01,-0.008,-0.006,-0.004,-0.002,0.002,0.004,0.006,0.008,0.01,0.012,0.014,0.016,0.018,0.022,0.024,0.026,0.028,0.03,0.032,0.034,0.036,0.038,0.042,0.044,0.046,0.048,0.05,0.052,0.054,0.056,0.058], "tickSize": 5, "tickWidth": 1, "labels": false, "title": null}},
           "color": {"field": "c", "type": "nominal"}}},
        {"data": {"name": "juoh"}, "mark": {"type": "line", "strokeWidth": 4.5, "clip": true},
         "encoding": {
           "x": {"field": "t", "type": "quantitative", "axis": null},
           "y": {"field": "a", "type": "quantitative", "axis": null},
           "color": {"field": "c", "type": "nominal",
             "scale": {"domain": ["Transverse", "Radial", "Vertical", "30 Jun. 2011", "11 Dec. 2011"], "range": ["#00ff00", "#ff0000", "#0000ff", "#000000", "#000000"]},
             "legend": {"orient": "none", "legendX": 19, "legendY": 7, "title": null, "symbolType": "stroke", "symbolSize": 400, "symbolStrokeWidth": 5, "symbolOpacity": 1, "labelFont": "Liberation Sans", "labelFontSize": 21, "labelFontWeight": "bold", "labelColor": "black", "labelOffset": 8, "rowPadding": 0, "padding": 0,
               "encode": {"symbols": {"update": {"strokeDash": {"signal": "datum.value === '11 Dec. 2011' ? [5, 4] : null"}}}}}}}}
      ]
    },
    {
      "title": "N.JHKH−D",
      "width": 408, "height": 349,
      "resolve": {"axis": {"x": "independent", "y": "independent"}},
      "layer": [
        {"data": {"values": [{"s": 15.9}]}, "mark": {"type": "rule", "color": "black", "strokeWidth": 1.2, "strokeDash": [3, 3]},
         "encoding": {"x": {"field": "s", "type": "quantitative", "scale": {"domain": [0, 37.5], "nice": false, "zero": false}, "axis": null}}},
        {"data": {"values": [{"z": 0}]}, "mark": {"type": "rule", "color": "#000000", "strokeWidth": 1.3},
         "encoding": {"y": {"field": "z", "type": "quantitative", "scale": {"domain": [-0.02, 0.06], "nice": false, "zero": false}, "axis": null}}},
        {"data": {"name": "jhkh_w"}, "mark": {"type": "line", "color": "black", "strokeWidth": 1, "clip": true},
         "encoding": {
           "x": {"field": "t", "type": "quantitative", "scale": {"domain": [0, 37.5], "nice": false, "zero": false}, "axis": {"orient": "bottom", "values": [0, 10, 20, 30], "format": "d", "tickSize": 10, "tickWidth": 1.5, "labelPadding": 3, "labelFlush": false, "title": "Lapse time after P−onset (s)", "titlePadding": 13}},
           "y": {"field": "w", "type": "quantitative", "scale": {"domain": [-0.02, 0.06], "nice": false, "zero": false}, "axis": {"orient": "left", "values": [-0.02, 0, 0.02, 0.04, 0.06], "format": ".2f", "tickSize": 10, "tickWidth": 1.5, "labelPadding": 7, "labelFlush": false, "title": "Phase delay time (s)", "titlePadding": 6}}}},
        {"data": {"name": "jhkh"}, "mark": {"type": "errorbar", "ticks": {"size": 13, "thickness": 1}, "rule": {"strokeWidth": 1}, "opacity": 0.45, "clip": true},
         "encoding": {
           "x": {"field": "t", "type": "quantitative", "axis": {"orient": "bottom", "values": [1,2,3,4,5,6,7,8,9,11,12,13,14,15,16,17,18,19,21,22,23,24,25,26,27,28,29,31,32,33,34,35,36,37], "tickSize": 5, "tickWidth": 1, "labels": false, "title": null}},
           "y": {"field": "b", "type": "quantitative", "axis": {"orient": "left", "values": [-0.018,-0.016,-0.014,-0.012,-0.01,-0.008,-0.006,-0.004,-0.002,0.002,0.004,0.006,0.008,0.01,0.012,0.014,0.016,0.018,0.022,0.024,0.026,0.028,0.03,0.032,0.034,0.036,0.038,0.042,0.044,0.046,0.048,0.05,0.052,0.054,0.056,0.058], "tickSize": 5, "tickWidth": 1, "labels": false, "title": null}},
           "yError": {"field": "e"},
           "color": {"field": "c", "type": "nominal"}}},
        {"data": {"name": "jhkh"}, "mark": {"type": "errorbar", "ticks": {"size": 13, "thickness": 1}, "rule": {"strokeWidth": 1}, "opacity": 0.85, "clip": true},
         "encoding": {
           "x": {"field": "t", "type": "quantitative", "axis": {"orient": "top", "values": [0, 10, 20, 30], "tickSize": 10, "tickWidth": 1.5, "labels": false, "title": null}},
           "y": {"field": "a", "type": "quantitative", "axis": {"orient": "right", "values": [-0.02, 0, 0.02, 0.04, 0.06], "tickSize": 10, "tickWidth": 1.5, "labels": false, "title": null}},
           "yError": {"field": "e"},
           "color": {"field": "c", "type": "nominal"}}},
        {"data": {"name": "jhkh"}, "mark": {"type": "line", "strokeWidth": 4.5, "strokeDash": [5, 5], "strokeCap": "butt", "clip": true},
         "encoding": {
           "x": {"field": "t", "type": "quantitative", "axis": {"orient": "top", "values": [1,2,3,4,5,6,7,8,9,11,12,13,14,15,16,17,18,19,21,22,23,24,25,26,27,28,29,31,32,33,34,35,36,37], "tickSize": 5, "tickWidth": 1, "labels": false, "title": null}},
           "y": {"field": "b", "type": "quantitative", "axis": {"orient": "right", "values": [-0.018,-0.016,-0.014,-0.012,-0.01,-0.008,-0.006,-0.004,-0.002,0.002,0.004,0.006,0.008,0.01,0.012,0.014,0.016,0.018,0.022,0.024,0.026,0.028,0.03,0.032,0.034,0.036,0.038,0.042,0.044,0.046,0.048,0.05,0.052,0.054,0.056,0.058], "tickSize": 5, "tickWidth": 1, "labels": false, "title": null}},
           "color": {"field": "c", "type": "nominal"}}},
        {"data": {"name": "jhkh"}, "mark": {"type": "line", "strokeWidth": 4.5, "clip": true},
         "encoding": {
           "x": {"field": "t", "type": "quantitative", "axis": null},
           "y": {"field": "a", "type": "quantitative", "axis": null},
           "color": {"field": "c", "type": "nominal",
             "scale": {"domain": ["Transverse", "Radial", "Vertical", "30 Jun. 2011", "11 Dec. 2011"], "range": ["#00ff00", "#ff0000", "#0000ff", "#000000", "#000000"]},
             "legend": {"orient": "none", "legendX": 19, "legendY": 7, "title": null, "symbolType": "stroke", "symbolSize": 400, "symbolStrokeWidth": 5, "symbolOpacity": 1, "labelFont": "Liberation Sans", "labelFontSize": 21, "labelFontWeight": "bold", "labelColor": "black", "labelOffset": 8, "rowPadding": 0, "padding": 0,
               "encode": {"symbols": {"update": {"strokeDash": {"signal": "datum.value === '11 Dec. 2011' ? [5, 4] : null"}}}}}}}}
      ]
    },
    {
      "title": "N.HTKH−D",
      "width": 408, "height": 349,
      "resolve": {"axis": {"x": "independent", "y": "independent"}},
      "layer": [
        {"data": {"values": [{"s": 13.8}]}, "mark": {"type": "rule", "color": "black", "strokeWidth": 1.2, "strokeDash": [3, 3]},
         "encoding": {"x": {"field": "s", "type": "quantitative", "scale": {"domain": [0, 37.5], "nice": false, "zero": false}, "axis": null}}},
        {"data": {"values": [{"z": 0}]}, "mark": {"type": "rule", "color": "#000000", "strokeWidth": 1.3},
         "encoding": {"y": {"field": "z", "type": "quantitative", "scale": {"domain": [-0.02, 0.06], "nice": false, "zero": false}, "axis": null}}},
        {"data": {"name": "htkh_w"}, "mark": {"type": "line", "color": "black", "strokeWidth": 1, "clip": true},
         "encoding": {
           "x": {"field": "t", "type": "quantitative", "scale": {"domain": [0, 37.5], "nice": false, "zero": false}, "axis": {"orient": "bottom", "values": [0, 10, 20, 30], "format": "d", "tickSize": 10, "tickWidth": 1.5, "labelPadding": 3, "labelFlush": false, "title": "Lapse time after P−onset (s)", "titlePadding": 13}},
           "y": {"field": "w", "type": "quantitative", "scale": {"domain": [-0.02, 0.06], "nice": false, "zero": false}, "axis": {"orient": "left", "values": [-0.02, 0, 0.02, 0.04, 0.06], "format": ".2f", "tickSize": 10, "tickWidth": 1.5, "labelPadding": 7, "labelFlush": false, "title": "Phase delay time (s)", "titlePadding": 6}}}},
        {"data": {"name": "htkh"}, "mark": {"type": "errorbar", "ticks": {"size": 13, "thickness": 1}, "rule": {"strokeWidth": 1}, "opacity": 0.45, "clip": true},
         "encoding": {
           "x": {"field": "t", "type": "quantitative", "axis": {"orient": "bottom", "values": [1,2,3,4,5,6,7,8,9,11,12,13,14,15,16,17,18,19,21,22,23,24,25,26,27,28,29,31,32,33,34,35,36,37], "tickSize": 5, "tickWidth": 1, "labels": false, "title": null}},
           "y": {"field": "b", "type": "quantitative", "axis": {"orient": "left", "values": [-0.018,-0.016,-0.014,-0.012,-0.01,-0.008,-0.006,-0.004,-0.002,0.002,0.004,0.006,0.008,0.01,0.012,0.014,0.016,0.018,0.022,0.024,0.026,0.028,0.03,0.032,0.034,0.036,0.038,0.042,0.044,0.046,0.048,0.05,0.052,0.054,0.056,0.058], "tickSize": 5, "tickWidth": 1, "labels": false, "title": null}},
           "yError": {"field": "e"},
           "color": {"field": "c", "type": "nominal"}}},
        {"data": {"name": "htkh"}, "mark": {"type": "errorbar", "ticks": {"size": 13, "thickness": 1}, "rule": {"strokeWidth": 1}, "opacity": 0.85, "clip": true},
         "encoding": {
           "x": {"field": "t", "type": "quantitative", "axis": {"orient": "top", "values": [0, 10, 20, 30], "tickSize": 10, "tickWidth": 1.5, "labels": false, "title": null}},
           "y": {"field": "a", "type": "quantitative", "axis": {"orient": "right", "values": [-0.02, 0, 0.02, 0.04, 0.06], "tickSize": 10, "tickWidth": 1.5, "labels": false, "title": null}},
           "yError": {"field": "e"},
           "color": {"field": "c", "type": "nominal"}}},
        {"data": {"name": "htkh"}, "mark": {"type": "line", "strokeWidth": 4.5, "strokeDash": [5, 5], "strokeCap": "butt", "clip": true},
         "encoding": {
           "x": {"field": "t", "type": "quantitative", "axis": {"orient": "top", "values": [1,2,3,4,5,6,7,8,9,11,12,13,14,15,16,17,18,19,21,22,23,24,25,26,27,28,29,31,32,33,34,35,36,37], "tickSize": 5, "tickWidth": 1, "labels": false, "title": null}},
           "y": {"field": "b", "type": "quantitative", "axis": {"orient": "right", "values": [-0.018,-0.016,-0.014,-0.012,-0.01,-0.008,-0.006,-0.004,-0.002,0.002,0.004,0.006,0.008,0.01,0.012,0.014,0.016,0.018,0.022,0.024,0.026,0.028,0.03,0.032,0.034,0.036,0.038,0.042,0.044,0.046,0.048,0.05,0.052,0.054,0.056,0.058], "tickSize": 5, "tickWidth": 1, "labels": false, "title": null}},
           "color": {"field": "c", "type": "nominal"}}},
        {"data": {"name": "htkh"}, "mark": {"type": "line", "strokeWidth": 4.5, "clip": true},
         "encoding": {
           "x": {"field": "t", "type": "quantitative", "axis": null},
           "y": {"field": "a", "type": "quantitative", "axis": null},
           "color": {"field": "c", "type": "nominal",
             "scale": {"domain": ["Transverse", "Radial", "Vertical", "30 Jun. 2011", "11 Dec. 2011"], "range": ["#00ff00", "#ff0000", "#0000ff", "#000000", "#000000"]},
             "legend": {"orient": "none", "legendX": 19, "legendY": 7, "title": null, "symbolType": "stroke", "symbolSize": 400, "symbolStrokeWidth": 5, "symbolOpacity": 1, "labelFont": "Liberation Sans", "labelFontSize": 21, "labelFontWeight": "bold", "labelColor": "black", "labelOffset": 8, "rowPadding": 0, "padding": 0,
               "encode": {"symbols": {"update": {"strokeDash": {"signal": "datum.value === '11 Dec. 2011' ? [5, 4] : null"}}}}}}}}
      ]
    },
    {
      "title": "N.EDSH−D",
      "width": 408, "height": 349,
      "resolve": {"axis": {"x": "independent", "y": "independent"}},
      "layer": [
        {"data": {"values": [{"s": 16.4}]}, "mark": {"type": "rule", "color": "black", "strokeWidth": 1.2, "strokeDash": [3, 3]},
         "encoding": {"x": {"field": "s", "type": "quantitative", "scale": {"domain": [0, 37.5], "nice": false, "zero": false}, "axis": null}}},
        {"data": {"values": [{"z": 0}]}, "mark": {"type": "rule", "color": "#808080", "strokeWidth": 1.5},
         "encoding": {"y": {"field": "z", "type": "quantitative", "scale": {"domain": [-0.02, 0.06], "nice": false, "zero": false}, "axis": null}}},
        {"data": {"name": "edsh_w"}, "mark": {"type": "line", "color": "black", "strokeWidth": 1, "clip": true},
         "encoding": {
           "x": {"field": "t", "type": "quantitative", "scale": {"domain": [0, 37.5], "nice": false, "zero": false}, "axis": {"orient": "bottom", "values": [0, 10, 20, 30], "format": "d", "tickSize": 10, "tickWidth": 1.5, "labelPadding": 3, "labelFlush": false, "title": "Lapse time after P−onset (s)", "titlePadding": 13}},
           "y": {"field": "w", "type": "quantitative", "scale": {"domain": [-0.02, 0.06], "nice": false, "zero": false}, "axis": {"orient": "left", "values": [-0.02, 0, 0.02, 0.04, 0.06], "format": ".2f", "tickSize": 10, "tickWidth": 1.5, "labelPadding": 7, "labelFlush": false, "title": "Phase delay time (s)", "titlePadding": 6}}}},
        {"data": {"name": "edsh"}, "mark": {"type": "errorbar", "ticks": {"size": 13, "thickness": 1}, "rule": {"strokeWidth": 1}, "opacity": 0.45, "clip": true},
         "encoding": {
           "x": {"field": "t", "type": "quantitative", "axis": {"orient": "bottom", "values": [1,2,3,4,5,6,7,8,9,11,12,13,14,15,16,17,18,19,21,22,23,24,25,26,27,28,29,31,32,33,34,35,36,37], "tickSize": 5, "tickWidth": 1, "labels": false, "title": null}},
           "y": {"field": "b", "type": "quantitative", "axis": {"orient": "left", "values": [-0.018,-0.016,-0.014,-0.012,-0.01,-0.008,-0.006,-0.004,-0.002,0.002,0.004,0.006,0.008,0.01,0.012,0.014,0.016,0.018,0.022,0.024,0.026,0.028,0.03,0.032,0.034,0.036,0.038,0.042,0.044,0.046,0.048,0.05,0.052,0.054,0.056,0.058], "tickSize": 5, "tickWidth": 1, "labels": false, "title": null}},
           "yError": {"field": "e"},
           "color": {"field": "c", "type": "nominal"}}},
        {"data": {"name": "edsh"}, "mark": {"type": "errorbar", "ticks": {"size": 13, "thickness": 1}, "rule": {"strokeWidth": 1}, "opacity": 0.85, "clip": true},
         "encoding": {
           "x": {"field": "t", "type": "quantitative", "axis": {"orient": "top", "values": [0, 10, 20, 30], "tickSize": 10, "tickWidth": 1.5, "labels": false, "title": null}},
           "y": {"field": "a", "type": "quantitative", "axis": {"orient": "right", "values": [-0.02, 0, 0.02, 0.04, 0.06], "tickSize": 10, "tickWidth": 1.5, "labels": false, "title": null}},
           "yError": {"field": "e"},
           "color": {"field": "c", "type": "nominal"}}},
        {"data": {"name": "edsh"}, "mark": {"type": "line", "strokeWidth": 4.5, "strokeDash": [5, 5], "strokeCap": "butt", "clip": true},
         "encoding": {
           "x": {"field": "t", "type": "quantitative", "axis": {"orient": "top", "values": [1,2,3,4,5,6,7,8,9,11,12,13,14,15,16,17,18,19,21,22,23,24,25,26,27,28,29,31,32,33,34,35,36,37], "tickSize": 5, "tickWidth": 1, "labels": false, "title": null}},
           "y": {"field": "b", "type": "quantitative", "axis": {"orient": "right", "values": [-0.018,-0.016,-0.014,-0.012,-0.01,-0.008,-0.006,-0.004,-0.002,0.002,0.004,0.006,0.008,0.01,0.012,0.014,0.016,0.018,0.022,0.024,0.026,0.028,0.03,0.032,0.034,0.036,0.038,0.042,0.044,0.046,0.048,0.05,0.052,0.054,0.056,0.058], "tickSize": 5, "tickWidth": 1, "labels": false, "title": null}},
           "color": {"field": "c", "type": "nominal"}}},
        {"data": {"name": "edsh"}, "mark": {"type": "line", "strokeWidth": 4.5, "clip": true},
         "encoding": {
           "x": {"field": "t", "type": "quantitative", "axis": null},
           "y": {"field": "a", "type": "quantitative", "axis": null},
           "color": {"field": "c", "type": "nominal",
             "scale": {"domain": ["Transverse", "Radial", "Vertical", "30 Jun. 2011", "11 Dec. 2011"], "range": ["#00ff00", "#ff0000", "#0000ff", "#000000", "#000000"]},
             "legend": {"orient": "none", "legendX": 19, "legendY": 7, "title": null, "symbolType": "stroke", "symbolSize": 400, "symbolStrokeWidth": 5, "symbolOpacity": 1, "labelFont": "Liberation Sans", "labelFontSize": 21, "labelFontWeight": "bold", "labelColor": "black", "labelOffset": 8, "rowPadding": 0, "padding": 0,
               "encode": {"symbols": {"update": {"strokeDash": {"signal": "datum.value === '11 Dec. 2011' ? [5, 4] : null"}}}}}}}}
      ]
    },
    {
      "title": "N.TYOH−D",
      "width": 408, "height": 349,
      "resolve": {"axis": {"x": "independent", "y": "independent"}},
      "layer": [
        {"data": {"values": [{"s": 14.3}]}, "mark": {"type": "rule", "color": "black", "strokeWidth": 1.2, "strokeDash": [3, 3]},
         "encoding": {"x": {"field": "s", "type": "quantitative", "scale": {"domain": [0, 37.5], "nice": false, "zero": false}, "axis": null}}},
        {"data": {"values": [{"z": 0}]}, "mark": {"type": "rule", "color": "#808080", "strokeWidth": 1.5},
         "encoding": {"y": {"field": "z", "type": "quantitative", "scale": {"domain": [-0.02, 0.06], "nice": false, "zero": false}, "axis": null}}},
        {"data": {"name": "tyoh_w"}, "mark": {"type": "line", "color": "black", "strokeWidth": 1, "clip": true},
         "encoding": {
           "x": {"field": "t", "type": "quantitative", "scale": {"domain": [0, 37.5], "nice": false, "zero": false}, "axis": {"orient": "bottom", "values": [0, 10, 20, 30], "format": "d", "tickSize": 10, "tickWidth": 1.5, "labelPadding": 3, "labelFlush": false, "title": "Lapse time after P−onset (s)", "titlePadding": 13}},
           "y": {"field": "w", "type": "quantitative", "scale": {"domain": [-0.02, 0.06], "nice": false, "zero": false}, "axis": {"orient": "left", "values": [-0.02, 0, 0.02, 0.04, 0.06], "format": ".2f", "tickSize": 10, "tickWidth": 1.5, "labelPadding": 7, "labelFlush": false, "title": "Phase delay time (s)", "titlePadding": 6}}}},
        {"data": {"name": "tyoh"}, "mark": {"type": "errorbar", "ticks": {"size": 13, "thickness": 1}, "rule": {"strokeWidth": 1}, "opacity": 0.45, "clip": true},
         "encoding": {
           "x": {"field": "t", "type": "quantitative", "axis": {"orient": "bottom", "values": [1,2,3,4,5,6,7,8,9,11,12,13,14,15,16,17,18,19,21,22,23,24,25,26,27,28,29,31,32,33,34,35,36,37], "tickSize": 5, "tickWidth": 1, "labels": false, "title": null}},
           "y": {"field": "b", "type": "quantitative", "axis": {"orient": "left", "values": [-0.018,-0.016,-0.014,-0.012,-0.01,-0.008,-0.006,-0.004,-0.002,0.002,0.004,0.006,0.008,0.01,0.012,0.014,0.016,0.018,0.022,0.024,0.026,0.028,0.03,0.032,0.034,0.036,0.038,0.042,0.044,0.046,0.048,0.05,0.052,0.054,0.056,0.058], "tickSize": 5, "tickWidth": 1, "labels": false, "title": null}},
           "yError": {"field": "e"},
           "color": {"field": "c", "type": "nominal"}}},
        {"data": {"name": "tyoh"}, "mark": {"type": "errorbar", "ticks": {"size": 13, "thickness": 1}, "rule": {"strokeWidth": 1}, "opacity": 0.85, "clip": true},
         "encoding": {
           "x": {"field": "t", "type": "quantitative", "axis": {"orient": "top", "values": [0, 10, 20, 30], "tickSize": 10, "tickWidth": 1.5, "labels": false, "title": null}},
           "y": {"field": "a", "type": "quantitative", "axis": {"orient": "right", "values": [-0.02, 0, 0.02, 0.04, 0.06], "tickSize": 10, "tickWidth": 1.5, "labels": false, "title": null}},
           "yError": {"field": "e"},
           "color": {"field": "c", "type": "nominal"}}},
        {"data": {"name": "tyoh"}, "mark": {"type": "line", "strokeWidth": 4.5, "strokeDash": [5, 5], "strokeCap": "butt", "clip": true},
         "encoding": {
           "x": {"field": "t", "type": "quantitative", "axis": {"orient": "top", "values": [1,2,3,4,5,6,7,8,9,11,12,13,14,15,16,17,18,19,21,22,23,24,25,26,27,28,29,31,32,33,34,35,36,37], "tickSize": 5, "tickWidth": 1, "labels": false, "title": null}},
           "y": {"field": "b", "type": "quantitative", "axis": {"orient": "right", "values": [-0.018,-0.016,-0.014,-0.012,-0.01,-0.008,-0.006,-0.004,-0.002,0.002,0.004,0.006,0.008,0.01,0.012,0.014,0.016,0.018,0.022,0.024,0.026,0.028,0.03,0.032,0.034,0.036,0.038,0.042,0.044,0.046,0.048,0.05,0.052,0.054,0.056,0.058], "tickSize": 5, "tickWidth": 1, "labels": false, "title": null}},
           "color": {"field": "c", "type": "nominal"}}},
        {"data": {"name": "tyoh"}, "mark": {"type": "line", "strokeWidth": 4.5, "clip": true},
         "encoding": {
           "x": {"field": "t", "type": "quantitative", "axis": null},
           "y": {"field": "a", "type": "quantitative", "axis": null},
           "color": {"field": "c", "type": "nominal",
             "scale": {"domain": ["Transverse", "Radial", "Vertical", "30 Jun. 2011", "11 Dec. 2011"], "range": ["#00ff00", "#ff0000", "#0000ff", "#000000", "#000000"]},
             "legend": {"orient": "none", "legendX": 19, "legendY": 7, "title": null, "symbolType": "stroke", "symbolSize": 400, "symbolStrokeWidth": 5, "symbolOpacity": 1, "labelFont": "Liberation Sans", "labelFontSize": 21, "labelFontWeight": "bold", "labelColor": "black", "labelOffset": 8, "rowPadding": 0, "padding": 0,
               "encode": {"symbols": {"update": {"strokeDash": {"signal": "datum.value === '11 Dec. 2011' ? [5, 4] : null"}}}}}}}}
      ]
    }
  ],
  "config": {
    "font": "Liberation Sans",
    "view": {"stroke": "black", "strokeWidth": 2.5},
    "axis": {"grid": false, "domain": false, "labelFont": "Liberation Sans", "labelFontSize": 24, "labelFontWeight": "bold", "labelColor": "black", "labelOverlap": false, "titleFont": "Liberation Sans", "titleFontSize": 29, "titleFontWeight": "bold", "titleColor": "black", "tickColor": "black"},
    "title": {"font": "Liberation Sans", "fontSize": 33, "fontWeight": "bold", "color": "black", "anchor": "middle", "offset": 18}
  }
}
